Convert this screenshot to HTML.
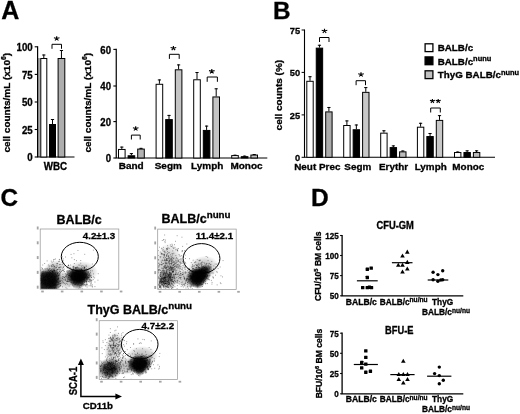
<!DOCTYPE html>
<html><head><meta charset="utf-8"><title>Figure</title>
<style>html,body{margin:0;padding:0;background:#fff;}svg{display:block;will-change:transform}text{stroke:#000;stroke-width:0.3px;font-family:"Liberation Sans",sans-serif;font-weight:bold;fill:#000}</style>
</head><body>
<svg width="520" height="414" viewBox="0 0 520 414">
<defs><radialGradient id="bg"><stop offset="0" stop-color="#000" stop-opacity="1"/><stop offset="0.5" stop-color="#000" stop-opacity="0.95"/><stop offset="0.72" stop-color="#000" stop-opacity="0.55"/><stop offset="0.88" stop-color="#000" stop-opacity="0.15"/><stop offset="1" stop-color="#000" stop-opacity="0"/></radialGradient><radialGradient id="hz"><stop offset="0" stop-color="#000" stop-opacity="0.28"/><stop offset="0.6" stop-color="#000" stop-opacity="0.17"/><stop offset="1" stop-color="#000" stop-opacity="0"/></radialGradient><radialGradient id="b2"><stop offset="0" stop-color="#000" stop-opacity="0.8"/><stop offset="0.45" stop-color="#000" stop-opacity="0.68"/><stop offset="0.75" stop-color="#000" stop-opacity="0.33"/><stop offset="1" stop-color="#000" stop-opacity="0"/></radialGradient><filter id="bl" x="-30%" y="-30%" width="160%" height="160%"><feGaussianBlur stdDeviation="1.6"/></filter><filter id="pb" x="-5%" y="-5%" width="110%" height="110%"><feGaussianBlur stdDeviation="0.45"/></filter><clipPath id="cp1"><rect x="40.6" y="229.4" width="77.8" height="59.39999999999999"/></clipPath><clipPath id="cp2"><rect x="158.1" y="229.5" width="77.7" height="59.60000000000001"/></clipPath><clipPath id="cp3"><rect x="99.60000000000001" y="321.09999999999997" width="77.6" height="57.89999999999999"/></clipPath></defs>
<rect width="520" height="414" fill="#fff"/>
<text x="1.3" y="19.3" font-size="25" text-anchor="start" stroke="#000" stroke-width="0.6">A</text>
<text x="273.1" y="19.1" font-size="24.3" text-anchor="start" stroke="#000" stroke-width="0.6">B</text>
<text x="0.6" y="205.5" font-size="24.3" text-anchor="start" stroke="#000" stroke-width="0.6">C</text>
<text x="310.9" y="205.8" font-size="24.5" text-anchor="start" stroke="#000" stroke-width="0.6">D</text>
<rect x="38" y="58" width="2.6" height="99" fill="#a8a8a8"/>
<path d="M37.6 46.199999999999996V157H74.5" stroke="#000" stroke-width="1.2" fill="none"/>
<path d="M34.7 46.8H37.6" stroke="#000" stroke-width="1.0999999999999999"/>
<text transform="translate(32.7,51.45) scale(0.9346,1)" font-size="10.38" text-anchor="end" >100</text>
<path d="M34.7 74.4H37.6" stroke="#000" stroke-width="1.0999999999999999"/>
<text transform="translate(32.7,78.91) scale(0.9346,1)" font-size="10.38" text-anchor="end" >75</text>
<path d="M34.7 102H37.6" stroke="#000" stroke-width="1.0999999999999999"/>
<text transform="translate(32.7,106.37) scale(0.9346,1)" font-size="10.38" text-anchor="end" >50</text>
<path d="M34.7 129.5H37.6" stroke="#000" stroke-width="1.0999999999999999"/>
<text transform="translate(32.7,133.82999999999998) scale(0.9346,1)" font-size="10.38" text-anchor="end" >25</text>
<path d="M34.7 157H37.6" stroke="#000" stroke-width="1.0999999999999999"/>
<text transform="translate(32.7,161.29000000000002) scale(0.9346,1)" font-size="10.38" text-anchor="end" >0</text>
<rect x="40.80" y="58.50" width="6.00" height="98.50" fill="#fff" stroke="#000" stroke-width="1"/>
<path d="M43.80 58.00V54.50M42.20 55.00H45.40" stroke="#000" stroke-width="1" fill="none"/>
<rect x="49.50" y="124.50" width="6.00" height="32.50" fill="#000" stroke="#000" stroke-width="1"/>
<path d="M52.50 124.00V119.00M50.90 119.50H54.10" stroke="#000" stroke-width="1" fill="none"/>
<rect x="58.10" y="58.50" width="6.70" height="98.50" fill="#adadad" stroke="#000" stroke-width="1"/>
<path d="M61.45 58.00V50.00M59.85 50.50H63.05" stroke="#000" stroke-width="1" fill="none"/>
<path d="M52.00 48.80V44.30H61.50V48.80" stroke="#000" stroke-width="1" fill="none"/>
<path d="M56.70 38.50l0.00 -2.20M56.70 38.50l2.80 -0.70M56.70 38.50l-2.80 -0.70M56.70 38.50l1.70 2.00M56.70 38.50l-1.70 2.00" stroke="#000" stroke-width="1.15" fill="none"/>
<text transform="translate(55.5,169.5) scale(0.9615,1)" font-size="10.19" text-anchor="middle" >WBC</text>
<text transform="translate(10.1,152.6) rotate(-90) scale(1.0204,1)" font-size="9.80">cell counts/mL (x10<tspan font-size="0.68em" dy="-3.8">6</tspan><tspan dy="3.8">)</tspan></text>
<text transform="translate(91.0,152.6) rotate(-90) scale(1.0204,1)" font-size="9.80">cell counts/mL (x10<tspan font-size="0.68em" dy="-3.8">6</tspan><tspan dy="3.8">)</tspan></text>
<path d="M116.25 48.8V158H267.3" stroke="#000" stroke-width="1.2" fill="none"/>
<path d="M113.35 49.4H116.25" stroke="#000" stroke-width="1.0999999999999999"/>
<text transform="translate(111.05,53.5) scale(0.9434,1)" font-size="10.18" text-anchor="end" >60</text>
<path d="M113.35 86.0H116.25" stroke="#000" stroke-width="1.0999999999999999"/>
<text transform="translate(111.05,90.1) scale(0.9434,1)" font-size="10.18" text-anchor="end" >40</text>
<path d="M113.35 121.6H116.25" stroke="#000" stroke-width="1.0999999999999999"/>
<text transform="translate(111.05,125.69999999999999) scale(0.9434,1)" font-size="10.18" text-anchor="end" >20</text>
<path d="M113.35 158H116.25" stroke="#000" stroke-width="1.0999999999999999"/>
<text transform="translate(111.05,162.1) scale(0.9434,1)" font-size="10.18" text-anchor="end" >0</text>
<rect x="118.50" y="149.45" width="6.60" height="8.55" fill="#fff" stroke="#000" stroke-width="1"/>
<path d="M121.80 148.95V146.60M120.20 147.10H123.40" stroke="#000" stroke-width="1" fill="none"/>
<rect x="128.10" y="155.78" width="6.60" height="2.22" fill="#000" stroke="#000" stroke-width="1"/>
<path d="M131.40 155.28V153.11M129.80 153.61H133.00" stroke="#000" stroke-width="1" fill="none"/>
<rect x="137.70" y="149.09" width="6.60" height="8.91" fill="#b2b2b2" stroke="#000" stroke-width="1"/>
<path d="M141.00 148.59V147.86M139.40 148.36H142.60" stroke="#000" stroke-width="1" fill="none"/>
<rect x="156.10" y="84.29" width="6.60" height="73.71" fill="#fff" stroke="#000" stroke-width="1"/>
<path d="M159.40 83.79V79.45M157.80 79.95H161.00" stroke="#000" stroke-width="1" fill="none"/>
<rect x="165.70" y="119.59" width="6.60" height="38.41" fill="#000" stroke="#000" stroke-width="1"/>
<path d="M169.00 119.09V114.92M167.40 115.42H170.60" stroke="#000" stroke-width="1" fill="none"/>
<rect x="175.30" y="69.81" width="6.60" height="88.19" fill="#c4c4c4" stroke="#000" stroke-width="1"/>
<path d="M178.60 69.31V64.42M177.00 64.92H180.20" stroke="#000" stroke-width="1" fill="none"/>
<rect x="193.70" y="79.77" width="6.60" height="78.23" fill="#fff" stroke="#000" stroke-width="1"/>
<path d="M197.00 79.27V72.02M195.40 72.52H198.60" stroke="#000" stroke-width="1" fill="none"/>
<rect x="203.30" y="130.44" width="6.60" height="27.56" fill="#000" stroke="#000" stroke-width="1"/>
<path d="M206.60 129.94V125.60M205.00 126.10H208.20" stroke="#000" stroke-width="1" fill="none"/>
<rect x="212.90" y="96.96" width="6.60" height="61.04" fill="#c4c4c4" stroke="#000" stroke-width="1"/>
<path d="M216.20 96.46V88.31M214.60 88.81H217.80" stroke="#000" stroke-width="1" fill="none"/>
<rect x="231.70" y="155.60" width="6.60" height="2.40" fill="#fff" stroke="#000" stroke-width="1"/>
<path d="M235.00 155.10V154.74M233.40 155.24H236.60" stroke="#000" stroke-width="1" fill="none"/>
<rect x="241.30" y="156.69" width="6.60" height="1.31" fill="#000" stroke="#000" stroke-width="1"/>
<path d="M244.60 156.19V155.65M243.00 156.15H246.20" stroke="#000" stroke-width="1" fill="none"/>
<rect x="250.90" y="155.06" width="6.60" height="2.94" fill="#c4c4c4" stroke="#000" stroke-width="1"/>
<path d="M254.20 154.56V154.02M252.60 154.52H255.80" stroke="#000" stroke-width="1" fill="none"/>
<path d="M131.40 139.50V135.10H140.20V139.50" stroke="#000" stroke-width="1" fill="none"/>
<path d="M135.70 128.50l0.00 -2.20M135.70 128.50l2.80 -0.70M135.70 128.50l-2.80 -0.70M135.70 128.50l1.70 2.00M135.70 128.50l-1.70 2.00" stroke="#000" stroke-width="1.15" fill="none"/>
<path d="M169.40 58.90V54.30H179.20V58.90" stroke="#000" stroke-width="1" fill="none"/>
<path d="M173.40 48.20l0.00 -2.20M173.40 48.20l2.80 -0.70M173.40 48.20l-2.80 -0.70M173.40 48.20l1.70 2.00M173.40 48.20l-1.70 2.00" stroke="#000" stroke-width="1.15" fill="none"/>
<path d="M207.20 81.80V77.00H217.40V81.80" stroke="#000" stroke-width="1" fill="none"/>
<path d="M211.80 71.30l0.00 -2.20M211.80 71.30l2.80 -0.70M211.80 71.30l-2.80 -0.70M211.80 71.30l1.70 2.00M211.80 71.30l-1.70 2.00" stroke="#000" stroke-width="1.15" fill="none"/>
<text transform="translate(131.2,169.3) scale(1.0638,1)" font-size="9.40" text-anchor="middle" >Band</text>
<text transform="translate(168.3,169.3) scale(1.0638,1)" font-size="9.40" text-anchor="middle" >Segm</text>
<text transform="translate(207.2,169.3) scale(1.0638,1)" font-size="9.40" text-anchor="middle" >Lymph</text>
<text transform="translate(246.5,169.3) scale(1.0638,1)" font-size="9.40" text-anchor="middle" >Monoc</text>
<path d="M304.5 29.4V157.3H495" stroke="#000" stroke-width="1.1" fill="none"/>
<path d="M301.6 30H304.5" stroke="#000" stroke-width="1.0"/>
<text transform="translate(300.1,34.050000000000004) scale(0.9346,1)" font-size="9.95" text-anchor="end" >75</text>
<path d="M301.6 72.4H304.5" stroke="#000" stroke-width="1.0"/>
<text transform="translate(300.1,76.45) scale(0.9346,1)" font-size="9.95" text-anchor="end" >50</text>
<path d="M301.6 114.9H304.5" stroke="#000" stroke-width="1.0"/>
<text transform="translate(300.1,118.95) scale(0.9346,1)" font-size="9.95" text-anchor="end" >25</text>
<path d="M301.6 157.3H304.5" stroke="#000" stroke-width="1.0"/>
<text transform="translate(300.1,161.35) scale(0.9346,1)" font-size="9.95" text-anchor="end" >0</text>
<text transform="translate(281.8,130.4) rotate(-90) scale(1.0204,1)" font-size="9.80">cell counts (%)</text>
<rect x="306.80" y="81.30" width="6.40" height="76.00" fill="#fff" stroke="#000" stroke-width="1"/>
<path d="M310.00 80.80V76.21M308.40 76.71H311.60" stroke="#000" stroke-width="1" fill="none"/>
<rect x="316.25" y="48.15" width="6.40" height="109.15" fill="#000" stroke="#000" stroke-width="1"/>
<path d="M319.45 47.65V44.76M317.85 45.26H321.05" stroke="#000" stroke-width="1" fill="none"/>
<rect x="325.70" y="111.90" width="6.40" height="45.40" fill="#ababab" stroke="#000" stroke-width="1"/>
<path d="M328.90 111.40V106.98M327.30 107.48H330.50" stroke="#000" stroke-width="1" fill="none"/>
<rect x="343.70" y="125.50" width="6.40" height="31.80" fill="#fff" stroke="#000" stroke-width="1"/>
<path d="M346.90 125.00V120.41M345.30 120.91H348.50" stroke="#000" stroke-width="1" fill="none"/>
<rect x="353.15" y="129.75" width="6.40" height="27.55" fill="#000" stroke="#000" stroke-width="1"/>
<path d="M356.35 129.25V124.49M354.75 124.99H357.95" stroke="#000" stroke-width="1" fill="none"/>
<rect x="362.60" y="92.35" width="6.40" height="64.95" fill="#c8c8c8" stroke="#000" stroke-width="1"/>
<path d="M365.80 91.85V87.09M364.20 87.59H367.40" stroke="#000" stroke-width="1" fill="none"/>
<rect x="380.70" y="133.15" width="6.40" height="24.15" fill="#fff" stroke="#000" stroke-width="1"/>
<path d="M383.90 132.65V130.27M382.30 130.77H385.50" stroke="#000" stroke-width="1" fill="none"/>
<rect x="390.15" y="147.60" width="6.40" height="9.70" fill="#000" stroke="#000" stroke-width="1"/>
<path d="M393.35 147.10V145.40M391.75 145.90H394.95" stroke="#000" stroke-width="1" fill="none"/>
<rect x="399.60" y="151.85" width="6.40" height="5.45" fill="#bcbcbc" stroke="#000" stroke-width="1"/>
<path d="M402.80 151.35V150.50M401.20 151.00H404.40" stroke="#000" stroke-width="1" fill="none"/>
<rect x="417.40" y="127.20" width="6.40" height="30.10" fill="#fff" stroke="#000" stroke-width="1"/>
<path d="M420.60 126.70V122.79M419.00 123.29H422.20" stroke="#000" stroke-width="1" fill="none"/>
<rect x="426.85" y="136.55" width="6.40" height="20.75" fill="#000" stroke="#000" stroke-width="1"/>
<path d="M430.05 136.05V132.99M428.45 133.49H431.65" stroke="#000" stroke-width="1" fill="none"/>
<rect x="436.30" y="120.40" width="6.40" height="36.90" fill="#c8c8c8" stroke="#000" stroke-width="1"/>
<path d="M439.50 119.90V115.14M437.90 115.64H441.10" stroke="#000" stroke-width="1" fill="none"/>
<rect x="454.50" y="152.53" width="6.40" height="4.77" fill="#fff" stroke="#000" stroke-width="1"/>
<path d="M457.70 152.03V151.52M456.10 152.02H459.30" stroke="#000" stroke-width="1" fill="none"/>
<rect x="463.95" y="152.53" width="6.40" height="4.77" fill="#000" stroke="#000" stroke-width="1"/>
<path d="M467.15 152.03V150.33M465.55 150.83H468.75" stroke="#000" stroke-width="1" fill="none"/>
<rect x="473.40" y="152.53" width="6.40" height="4.77" fill="#bcbcbc" stroke="#000" stroke-width="1"/>
<path d="M476.60 152.03V150.33M475.00 150.83H478.20" stroke="#000" stroke-width="1" fill="none"/>
<path d="M319.50 42.00V37.50H329.00V42.00" stroke="#000" stroke-width="1" fill="none"/>
<path d="M324.50 31.00l0.00 -2.20M324.50 31.00l2.80 -0.70M324.50 31.00l-2.80 -0.70M324.50 31.00l1.70 2.00M324.50 31.00l-1.70 2.00" stroke="#000" stroke-width="1.15" fill="none"/>
<path d="M356.10 85.20V80.70H365.50V85.20" stroke="#000" stroke-width="1" fill="none"/>
<path d="M361.00 74.50l0.00 -2.20M361.00 74.50l2.80 -0.70M361.00 74.50l-2.80 -0.70M361.00 74.50l1.70 2.00M361.00 74.50l-1.70 2.00" stroke="#000" stroke-width="1.15" fill="none"/>
<path d="M430.70 112.50V108.00H440.30V112.50" stroke="#000" stroke-width="1" fill="none"/>
<path d="M432.40 101.00l0.00 -1.94M432.40 101.00l2.46 -0.62M432.40 101.00l-2.46 -0.62M432.40 101.00l1.50 1.76M432.40 101.00l-1.50 1.76M438.20 101.00l0.00 -1.94M438.20 101.00l2.46 -0.62M438.20 101.00l-2.46 -0.62M438.20 101.00l1.50 1.76M438.20 101.00l-1.50 1.76" stroke="#000" stroke-width="1.15" fill="none"/>
<text transform="translate(317.3,169.8) scale(1.0638,1)" font-size="9.31" text-anchor="middle" >Neut Prec</text>
<text transform="translate(357.8,169.8) scale(1.0638,1)" font-size="9.31" text-anchor="middle" >Segm</text>
<text transform="translate(393.6,169.8) scale(1.0638,1)" font-size="9.31" text-anchor="middle" >Erythr</text>
<text transform="translate(430.7,169.8) scale(1.0638,1)" font-size="9.31" text-anchor="middle" >Lymph</text>
<text transform="translate(468.3,169.8) scale(1.0638,1)" font-size="9.31" text-anchor="middle" >Monoc</text>
<rect x="425.1" y="43.800000000000004" width="7.8" height="7.8" fill="#fff" stroke="#000" stroke-width="1.3"/>
<rect x="425.1" y="56.9" width="7.8" height="7.8" fill="#000" stroke="#000" stroke-width="1.3"/>
<rect x="425.1" y="70.8" width="7.8" height="7.8" fill="#c0c0c0" stroke="#000" stroke-width="1.3"/>
<text transform="translate(437.7,51.4) scale(1.0417,1)" font-size="9.41" text-anchor="start" >BALB/c</text>
<text transform="translate(437.7,64.5) scale(1.0417,1)" font-size="9.41" text-anchor="start" >BALB/c<tspan font-size="0.76em" dy="-3.8">nunu</tspan></text>
<text transform="translate(437.7,78.4) scale(1.0417,1)" font-size="9.41" text-anchor="start" >ThyG BALB/c<tspan font-size="0.76em" dy="-3.8">nunu</tspan></text>
<rect x="40.2" y="229" width="78.6" height="60.19999999999999" fill="none" stroke="#999" stroke-width="0.75"/>
<g clip-path="url(#cp1)">
<ellipse cx="54" cy="270" rx="12" ry="9" fill="url(#hz)" transform="rotate(-35 54 270)"/>
<ellipse cx="66" cy="280" rx="14" ry="9" fill="url(#hz)" transform="rotate(0 66 280)"/>
<ellipse cx="82" cy="272" rx="16" ry="11" fill="url(#hz)" transform="rotate(0 82 272)"/>
<rect x="39" y="271.5" width="18.5" height="20" rx="4" fill="#000" fill-opacity="0.8" filter="url(#bl)"/>
<ellipse cx="49.5" cy="280.5" rx="13.5" ry="12.5" fill="url(#b2)" transform="rotate(-20 49.5 280.5)"/>
<ellipse cx="78.3" cy="276" rx="14" ry="9.5" fill="url(#bg)" transform="rotate(0 78.3 276)"/>
<ellipse cx="78" cy="281" rx="8" ry="8.5" fill="url(#b2)" transform="rotate(0 78 281)"/>
<path d="M47.4 282.7h.9M47.6 278.2h.9M43.2 278.3h.9M55.9 282.9h.9M55.4 281.9h.9M51.4 281.2h.9M38.7 283.8h.9M52.1 283.0h.9M38.5 269.5h.9M43.5 276.9h.9M50.9 279.9h.9M52.2 276.8h.9M50.9 282.3h.9M44.9 289.0h.9M52.5 286.9h.9M45.2 275.6h.9M46.9 279.2h.9M52.9 281.7h.9M46.2 274.5h.9M45.8 286.4h.9M44.0 280.9h.9M51.6 272.1h.9M49.3 287.2h.9M36.5 277.1h.9M48.3 275.5h.9M52.1 279.9h.9M39.9 283.7h.9M53.1 285.5h.9M57.9 282.8h.9M49.7 273.0h.9M52.8 277.0h.9M46.2 272.8h.9M43.0 276.6h.9M57.0 269.6h.9M40.0 280.5h.9M57.9 284.0h.9M37.2 265.2h.9M51.2 276.2h.9M42.1 284.7h.9M55.8 281.5h.9M50.5 282.5h.9M58.9 284.3h.9M52.2 283.3h.9M39.3 286.2h.9M54.9 283.4h.9M36.8 275.4h.9M54.2 270.6h.9M47.9 285.5h.9M40.9 288.1h.9M52.4 279.5h.9M51.0 283.7h.9M49.7 286.3h.9M44.9 277.4h.9M55.5 280.7h.9M43.5 284.7h.9M58.1 278.4h.9M40.4 278.5h.9M48.1 278.3h.9M57.7 275.2h.9M56.8 273.8h.9M44.1 283.0h.9M56.0 285.3h.9M51.1 281.0h.9M49.9 283.2h.9M47.9 281.4h.9M52.6 280.3h.9M53.7 283.5h.9M61.5 282.9h.9M46.3 277.7h.9M48.9 285.0h.9M46.9 281.9h.9M60.4 267.0h.9M42.0 280.7h.9M51.5 281.5h.9M46.3 283.3h.9M50.7 277.3h.9M64.1 283.3h.9M45.6 279.2h.9M47.6 279.5h.9M32.1 275.8h.9M55.3 274.2h.9M48.6 285.2h.9M54.3 288.6h.9M38.5 277.1h.9M46.9 283.2h.9M55.8 265.9h.9M55.7 272.7h.9M53.2 272.2h.9M50.1 286.6h.9M48.1 281.0h.9M53.9 281.2h.9M48.5 288.3h.9M55.5 279.0h.9M66.0 275.2h.9M54.7 279.0h.9M49.8 283.9h.9M50.4 283.6h.9M39.5 270.9h.9M52.8 275.1h.9M42.6 271.4h.9M56.9 284.8h.9M58.1 275.7h.9M49.0 273.8h.9M53.7 289.1h.9M43.5 288.0h.9M55.1 279.6h.9M36.8 286.6h.9M48.4 276.6h.9M51.5 282.5h.9M58.3 275.2h.9M56.0 288.8h.9M58.0 279.8h.9M44.4 285.2h.9M49.7 280.7h.9M57.8 279.3h.9M34.8 276.6h.9M37.5 283.5h.9M51.0 276.8h.9M48.9 284.6h.9M49.5 287.3h.9M48.6 285.7h.9M58.2 289.6h.9M44.8 284.4h.9M37.4 273.0h.9M36.8 284.8h.9M41.4 279.3h.9M47.8 279.7h.9M45.3 281.0h.9M60.1 281.2h.9M52.3 285.8h.9M47.8 273.0h.9M45.6 285.6h.9M38.8 275.8h.9M55.2 284.9h.9M49.0 284.4h.9M50.0 273.6h.9M39.3 275.6h.9M54.7 277.4h.9M43.4 275.3h.9M39.5 278.5h.9M41.7 281.3h.9M34.4 280.5h.9M45.0 269.0h.9M53.5 278.9h.9M35.2 274.0h.9M50.8 277.7h.9M53.8 284.5h.9M53.1 282.2h.9M57.3 284.3h.9M51.8 268.8h.9M54.6 287.7h.9M47.2 277.3h.9M61.0 271.4h.9M51.9 293.5h.9M43.2 283.3h.9M60.7 280.4h.9M52.5 285.2h.9M43.4 279.0h.9M50.8 284.7h.9M48.8 278.9h.9M42.7 277.5h.9M54.5 281.0h.9M43.7 274.9h.9M65.5 287.7h.9M53.0 266.2h.9M52.9 283.0h.9M59.4 283.3h.9M48.6 282.8h.9M36.9 284.6h.9M51.0 276.3h.9M57.2 290.6h.9M40.3 275.6h.9M50.8 281.2h.9M46.5 274.4h.9M62.1 286.8h.9M41.6 272.0h.9M59.6 286.3h.9M60.3 285.4h.9M43.6 280.9h.9M35.6 274.7h.9M48.6 282.8h.9M44.5 278.9h.9M51.8 282.3h.9M53.0 281.5h.9M47.0 284.1h.9M49.3 275.5h.9M45.1 279.7h.9M48.3 280.8h.9M49.0 281.0h.9M48.2 273.0h.9M51.6 286.0h.9M51.7 279.2h.9M51.8 275.0h.9M37.2 279.3h.9M43.2 283.5h.9M42.3 265.0h.9M42.6 288.1h.9M46.6 272.3h.9M44.3 282.4h.9M52.1 281.2h.9M58.2 284.7h.9M48.9 283.3h.9M59.3 286.2h.9M55.3 274.6h.9M48.1 283.9h.9M47.2 285.7h.9M52.7 285.3h.9M47.7 293.8h.9M56.7 279.5h.9M49.6 294.3h.9M46.9 284.6h.9M55.1 280.6h.9M41.8 280.4h.9M51.2 286.4h.9M53.9 280.6h.9M54.3 283.4h.9M50.3 280.4h.9M47.5 283.6h.9M42.5 276.0h.9M49.0 272.0h.9M46.3 268.8h.9M44.8 282.7h.9M52.5 280.0h.9M47.6 272.1h.9M60.3 283.8h.9M55.8 275.8h.9M47.9 269.9h.9M53.8 285.5h.9M37.2 278.7h.9M52.9 270.7h.9M37.7 273.2h.9M45.1 272.0h.9M49.2 281.4h.9M52.9 284.2h.9M58.3 287.2h.9M40.9 276.5h.9M42.4 273.5h.9M48.5 280.0h.9M52.0 271.6h.9M41.3 279.2h.9M47.8 278.2h.9M48.6 275.8h.9M53.3 282.3h.9M48.5 276.3h.9M47.9 265.0h.9M42.9 279.7h.9M39.7 280.3h.9M49.9 272.5h.9M47.4 278.1h.9M51.9 283.6h.9M48.8 275.3h.9M48.1 279.6h.9M53.6 282.0h.9M44.5 272.2h.9M46.7 275.7h.9M42.1 278.8h.9M46.0 280.3h.9M52.2 278.0h.9M63.4 279.5h.9M55.8 281.3h.9M55.9 267.6h.9M44.3 280.9h.9M52.7 293.1h.9M51.0 287.2h.9M53.8 285.6h.9M52.2 279.4h.9M52.2 274.4h.9M56.3 275.1h.9M50.5 291.7h.9M47.6 280.0h.9M56.2 280.8h.9M44.0 281.0h.9M52.6 284.2h.9M44.2 289.2h.9M59.3 281.0h.9M50.7 277.8h.9M57.8 276.9h.9M53.2 277.7h.9M44.7 283.6h.9M57.3 280.7h.9M44.8 284.1h.9M48.7 281.7h.9M58.4 287.0h.9M45.8 292.2h.9M49.0 284.3h.9M45.0 279.4h.9M38.2 288.8h.9M57.5 274.1h.9M39.7 270.3h.9M56.3 278.1h.9M48.6 278.3h.9M48.2 274.0h.9M49.1 272.1h.9M48.6 281.7h.9M51.9 279.0h.9M43.4 280.4h.9M46.0 288.3h.9M53.8 279.8h.9M46.1 275.9h.9M43.2 277.6h.9M50.8 283.0h.9M52.5 291.8h.9M44.6 279.7h.9M66.3 271.3h.9M45.8 280.6h.9M50.0 282.3h.9M47.5 281.9h.9M49.3 284.3h.9M37.3 274.1h.9M49.0 274.4h.9M42.5 282.9h.9M45.0 283.1h.9M53.6 282.1h.9M52.1 279.7h.9M40.3 279.1h.9M51.8 277.4h.9M48.4 284.0h.9M43.6 283.0h.9M60.5 278.0h.9M49.9 279.3h.9M58.5 282.6h.9M54.6 276.7h.9M48.9 279.9h.9M38.0 286.9h.9M54.6 270.9h.9M53.6 279.7h.9M51.8 282.3h.9M39.7 278.0h.9M58.3 277.7h.9M42.7 272.0h.9M41.4 281.2h.9M59.5 283.3h.9M50.5 292.4h.9M45.8 276.0h.9M52.3 283.3h.9M42.7 273.0h.9M50.8 281.5h.9M40.9 278.2h.9M45.6 282.2h.9M48.3 279.5h.9M46.8 285.6h.9M57.6 278.8h.9M54.2 276.3h.9M49.4 284.1h.9M58.4 278.7h.9M48.5 281.0h.9M39.7 279.3h.9M44.8 281.7h.9M42.0 268.6h.9M49.2 281.4h.9M45.6 284.6h.9M47.3 276.5h.9M52.0 271.7h.9M44.8 279.5h.9M54.3 279.6h.9M50.9 276.6h.9M50.9 289.3h.9M44.7 292.6h.9M45.0 279.7h.9M50.1 285.7h.9M41.3 267.8h.9M52.8 284.7h.9M52.9 294.7h.9M50.3 281.5h.9M54.8 282.5h.9M59.3 274.1h.9M46.7 260.9h.9M54.0 278.4h.9M54.7 292.3h.9M49.0 278.6h.9M45.9 275.1h.9M45.1 283.2h.9M49.2 280.4h.9M47.9 284.9h.9M52.1 279.5h.9M53.1 279.5h.9M41.9 287.3h.9M51.9 275.0h.9M55.7 282.5h.9M39.3 287.9h.9M51.1 285.1h.9M50.2 279.3h.9M39.4 284.5h.9M49.2 278.4h.9M51.2 280.6h.9M53.2 278.3h.9M48.8 268.3h.9M46.4 283.5h.9M57.3 278.7h.9M48.2 288.6h.9M47.0 283.8h.9M59.4 281.1h.9M56.6 276.8h.9M50.3 279.7h.9M49.7 286.2h.9M63.8 277.7h.9M45.4 282.4h.9M42.5 282.1h.9M52.5 278.8h.9M52.3 271.8h.9M53.7 272.0h.9M44.7 276.6h.9M46.5 284.5h.9M49.5 277.9h.9M52.4 289.0h.9M49.0 282.0h.9M56.7 282.1h.9M41.0 292.9h.9M62.7 270.4h.9M48.8 282.3h.9M55.0 284.2h.9M47.3 274.1h.9M49.6 285.7h.9M42.2 273.8h.9M48.8 269.4h.9M47.4 277.5h.9M51.8 276.4h.9M43.5 277.4h.9M48.7 276.3h.9M49.1 284.1h.9M56.3 290.0h.9M44.1 277.3h.9M33.6 289.0h.9M44.5 279.4h.9M52.2 272.9h.9M51.9 280.1h.9M37.7 280.6h.9M56.4 270.4h.9M54.0 281.6h.9M51.9 282.7h.9M57.1 279.5h.9M54.4 278.2h.9M53.5 275.9h.9M48.3 289.4h.9M51.8 279.4h.9M41.9 275.0h.9M50.2 285.2h.9M51.6 283.1h.9M48.7 287.4h.9M46.6 276.8h.9M54.5 280.8h.9M47.3 276.7h.9M47.4 283.3h.9M51.2 273.6h.9M51.6 281.2h.9M42.8 283.7h.9M47.3 278.0h.9M53.9 287.7h.9M44.7 282.0h.9M43.6 292.2h.9M45.9 286.3h.9M45.0 284.1h.9M62.8 267.3h.9M46.3 282.5h.9M48.4 276.3h.9M62.3 281.6h.9M38.8 283.8h.9M38.3 285.4h.9M45.4 280.5h.9M56.8 281.3h.9M40.4 270.0h.9M56.3 284.7h.9M43.9 284.3h.9M52.1 283.8h.9M35.0 277.1h.9M54.6 284.5h.9M54.5 267.0h.9M50.0 282.8h.9M64.8 276.2h.9M47.0 280.0h.9M54.5 278.1h.9M56.1 276.3h.9M50.7 277.3h.9M50.0 276.3h.9M39.1 285.1h.9M50.9 277.1h.9M50.2 285.5h.9M42.9 278.9h.9M52.3 283.2h.9M46.9 268.3h.9M56.7 282.5h.9M49.1 278.5h.9M50.6 277.8h.9M42.6 275.4h.9M45.3 276.3h.9M41.8 282.8h.9M40.9 282.9h.9M42.7 281.4h.9M57.5 281.9h.9M44.5 279.9h.9M49.9 270.6h.9M45.2 280.6h.9M46.1 280.2h.9M53.6 284.6h.9M54.6 283.7h.9M47.2 279.7h.9M47.3 278.1h.9M47.9 270.5h.9M46.9 279.7h.9M43.0 279.3h.9M82.2 276.2h.9M91.9 264.0h.9M77.7 267.9h.9M85.1 290.3h.9M63.5 277.6h.9M82.2 275.5h.9M82.4 265.8h.9M84.3 278.9h.9M79.1 274.1h.9M83.0 274.6h.9M80.4 274.4h.9M65.1 276.8h.9M80.3 280.8h.9M73.6 276.8h.9M82.8 277.7h.9M86.7 287.0h.9M73.4 267.4h.9M84.3 284.6h.9M84.7 281.1h.9M75.2 273.4h.9M84.5 272.4h.9M67.8 272.0h.9M94.5 286.6h.9M74.7 273.4h.9M80.4 273.3h.9M87.1 276.6h.9M72.3 283.5h.9M75.4 278.1h.9M78.9 275.4h.9M81.0 273.5h.9M67.6 266.0h.9M71.1 273.2h.9M78.9 277.3h.9M82.4 277.6h.9M74.1 273.5h.9M65.9 276.2h.9M82.0 279.6h.9M78.2 276.1h.9M84.8 277.1h.9M83.6 279.9h.9M80.3 283.5h.9M75.4 275.2h.9M74.0 273.0h.9M88.6 285.8h.9M79.1 279.8h.9M86.3 281.0h.9M86.5 270.7h.9M75.0 279.3h.9M87.9 277.5h.9M73.7 275.2h.9M74.9 272.7h.9M88.3 273.9h.9M79.1 287.8h.9M86.3 278.7h.9M75.2 279.1h.9M89.1 280.1h.9M86.8 277.5h.9M82.2 276.0h.9M81.6 283.5h.9M70.1 276.7h.9M80.5 274.1h.9M77.1 280.9h.9M91.4 280.1h.9M81.0 269.2h.9M91.0 277.4h.9M78.8 271.4h.9M78.6 271.5h.9M79.4 279.3h.9M79.2 278.4h.9M73.7 284.1h.9M75.0 267.9h.9M77.8 273.2h.9M72.7 275.2h.9M80.8 271.1h.9M78.1 284.1h.9M83.2 276.2h.9M79.8 276.4h.9M78.7 280.7h.9M78.4 265.0h.9M78.9 272.6h.9M83.0 273.9h.9M79.9 287.9h.9M72.5 271.4h.9M70.2 265.0h.9M67.4 278.8h.9M75.0 267.7h.9M69.8 280.1h.9M74.2 275.2h.9M81.0 283.8h.9M91.0 282.2h.9M79.9 277.9h.9M90.2 284.1h.9M77.1 279.3h.9M80.8 277.3h.9M75.9 270.4h.9M75.7 269.3h.9M86.6 279.7h.9M71.5 284.0h.9M84.5 267.5h.9M90.4 281.0h.9M91.8 270.8h.9M82.3 279.1h.9M80.3 277.9h.9M85.5 269.5h.9M71.3 270.0h.9M75.5 274.0h.9M81.3 278.3h.9M79.2 273.6h.9M76.3 281.8h.9M83.7 277.5h.9M77.0 284.8h.9M75.3 280.2h.9M86.2 275.7h.9M84.1 271.4h.9M85.3 278.0h.9M69.2 280.3h.9M73.5 283.4h.9M74.8 276.2h.9M80.8 275.3h.9M80.6 274.2h.9M83.2 277.0h.9M80.3 263.2h.9M86.2 277.2h.9M67.9 277.5h.9M81.9 282.4h.9M72.3 284.7h.9M78.0 289.0h.9M78.1 280.4h.9M76.7 271.4h.9M85.8 281.5h.9M88.5 281.3h.9M75.4 268.7h.9M75.0 273.6h.9M73.9 279.9h.9M81.0 275.7h.9M80.1 276.3h.9M80.3 280.8h.9M84.9 273.6h.9M69.7 284.1h.9M79.7 282.5h.9M68.8 275.4h.9M79.2 269.8h.9M75.8 280.6h.9M85.7 285.0h.9M73.6 270.0h.9M82.2 281.7h.9M80.2 270.5h.9M83.8 281.0h.9M82.4 274.6h.9M80.9 281.0h.9M75.5 267.8h.9M81.0 279.4h.9M79.1 281.4h.9M75.4 276.6h.9M77.1 279.9h.9M88.9 275.7h.9M91.7 284.6h.9M83.9 279.9h.9M90.0 276.1h.9M78.3 271.7h.9M81.9 283.7h.9M82.3 279.1h.9M77.8 277.8h.9M70.2 282.2h.9M76.5 271.5h.9M74.3 272.9h.9M84.3 282.3h.9M70.6 281.6h.9M84.5 274.1h.9M69.8 273.3h.9M75.1 278.7h.9M76.8 266.9h.9M80.4 269.3h.9M84.6 271.0h.9M74.7 272.7h.9M75.6 283.5h.9M84.3 280.0h.9M81.0 269.3h.9M75.8 274.2h.9M72.9 279.5h.9M74.4 273.5h.9M72.5 266.7h.9M82.7 283.7h.9M80.1 272.1h.9M62.2 277.9h.9M86.5 278.5h.9M84.7 284.4h.9M86.0 274.8h.9M85.5 280.9h.9M69.5 275.0h.9M70.2 276.5h.9M82.6 271.7h.9M66.3 283.5h.9M81.3 284.4h.9M70.8 282.3h.9M91.9 287.0h.9M77.7 278.3h.9M78.0 282.0h.9M85.4 277.4h.9M70.6 280.7h.9M76.1 280.1h.9M80.6 285.1h.9M86.1 274.7h.9M81.2 285.8h.9M75.7 279.2h.9M86.4 283.3h.9M82.2 270.4h.9M71.2 278.2h.9M81.4 289.7h.9M73.7 282.7h.9M83.8 268.6h.9M73.9 277.8h.9M75.9 276.2h.9M81.9 273.0h.9M81.9 273.8h.9M75.6 279.7h.9M75.4 278.4h.9M88.9 277.1h.9M78.1 280.7h.9M76.7 282.4h.9M71.0 280.1h.9M75.8 273.0h.9M90.0 272.7h.9M89.9 280.3h.9M88.0 272.1h.9M86.4 284.3h.9M78.3 276.4h.9M94.2 277.9h.9M76.4 273.9h.9M81.8 278.7h.9M80.1 285.6h.9M77.0 279.4h.9M88.0 272.0h.9M85.4 286.2h.9M70.6 271.5h.9M72.6 267.8h.9M81.8 267.7h.9M82.1 284.3h.9M69.0 275.4h.9M67.1 280.9h.9M74.4 275.7h.9M79.3 279.7h.9M76.9 277.1h.9M75.6 277.6h.9M71.7 277.3h.9M67.0 274.5h.9M90.9 277.4h.9M71.2 278.3h.9M73.0 268.7h.9M74.4 280.7h.9M81.4 276.5h.9M73.3 271.6h.9M87.4 278.2h.9M73.1 266.4h.9M70.5 289.4h.9M71.9 276.6h.9M80.3 276.2h.9M77.3 270.1h.9M72.5 285.4h.9M74.3 281.2h.9M68.5 275.6h.9M80.6 282.2h.9M72.0 280.0h.9M81.4 273.3h.9M82.0 272.5h.9M74.1 276.9h.9M62.2 276.5h.9M72.8 269.7h.9M76.4 280.8h.9M76.5 283.3h.9M71.8 270.4h.9M88.6 279.0h.9M84.9 272.9h.9M84.0 278.3h.9M83.0 277.1h.9M86.5 273.8h.9M73.0 269.6h.9M86.2 273.3h.9M72.5 272.3h.9M76.2 270.6h.9M77.2 273.9h.9M75.6 272.2h.9M79.2 274.7h.9M79.7 278.2h.9M81.1 266.1h.9M75.7 273.0h.9M83.8 269.1h.9M74.6 275.5h.9M76.9 282.0h.9M76.3 281.8h.9M69.9 267.9h.9M86.6 279.2h.9M82.0 277.6h.9M82.0 270.9h.9M84.9 274.3h.9M85.1 277.4h.9M66.8 270.6h.9M86.0 276.3h.9M76.5 278.2h.9M76.4 274.3h.9M79.6 277.7h.9M88.4 277.2h.9M90.7 286.0h.9M89.6 282.3h.9M79.8 277.7h.9M78.1 273.3h.9M78.6 273.8h.9M89.2 279.7h.9M76.2 267.4h.9M78.7 274.9h.9M72.3 271.3h.9M65.0 279.8h.9M78.6 289.9h.9M78.8 276.3h.9M88.0 277.7h.9M80.0 275.1h.9M75.2 284.5h.9M85.2 285.6h.9M76.8 277.2h.9M73.5 281.8h.9M70.4 279.8h.9M85.8 284.1h.9M73.2 282.4h.9M74.6 273.2h.9M70.8 282.8h.9M89.2 274.0h.9M74.3 275.3h.9M94.5 282.0h.9M75.6 268.0h.9M74.8 282.9h.9M90.6 275.7h.9M74.7 274.5h.9M67.3 281.5h.9M72.3 282.3h.9M68.4 270.6h.9M80.8 273.2h.9M83.8 277.0h.9M71.7 280.1h.9M84.2 267.4h.9M90.3 279.5h.9M83.7 267.7h.9M74.5 275.3h.9M85.7 269.7h.9M73.5 266.9h.9M77.5 278.7h.9M68.5 274.0h.9M82.2 284.9h.9M83.1 275.5h.9M71.7 272.3h.9M74.9 277.7h.9M78.7 285.3h.9M80.8 271.6h.9M88.6 281.7h.9M79.6 273.4h.9M67.4 271.9h.9M84.7 273.0h.9M70.8 278.0h.9M80.5 280.0h.9M83.1 284.0h.9M73.8 281.9h.9M72.9 280.5h.9M80.1 278.2h.9M85.0 276.9h.9M85.9 281.4h.9M79.8 274.2h.9M74.3 274.4h.9M77.7 276.9h.9M97.5 280.2h.9M83.8 272.7h.9M74.6 275.4h.9M80.2 271.8h.9M89.0 274.2h.9M85.7 265.3h.9M79.0 278.4h.9M80.2 280.0h.9M80.7 277.8h.9M67.3 273.4h.9M64.5 280.1h.9M80.9 276.0h.9M73.9 274.1h.9M90.4 285.7h.9M78.6 283.4h.9M69.2 267.3h.9M76.0 272.6h.9M75.5 277.9h.9M97.8 273.7h.9M79.3 278.4h.9M78.8 281.7h.9M90.0 270.8h.9M80.0 275.7h.9M81.2 269.3h.9M68.1 265.4h.9M82.3 278.0h.9M79.5 265.2h.9M76.7 273.2h.9M70.2 272.4h.9M83.3 279.7h.9M78.9 279.6h.9M75.3 277.4h.9M79.2 279.8h.9M78.6 276.3h.9M78.2 273.8h.9M92.8 279.6h.9M81.7 288.5h.9M87.7 269.2h.9M83.3 281.2h.9M90.7 283.6h.9M83.8 271.1h.9M73.6 278.3h.9M82.1 271.9h.9M76.6 275.0h.9M79.4 278.7h.9M77.2 270.8h.9M86.7 285.0h.9M78.3 282.1h.9M81.8 280.3h.9M82.0 273.2h.9M82.6 282.1h.9M73.4 286.8h.9M92.0 286.1h.9M91.3 280.7h.9M76.9 274.0h.9M74.0 277.6h.9M78.8 280.4h.9M66.5 288.6h.9M93.1 276.9h.9M83.2 279.4h.9M80.7 276.0h.9M78.2 272.9h.9M80.1 276.9h.9M81.0 272.7h.9M79.2 277.2h.9M82.7 271.7h.9M81.6 281.9h.9M82.7 275.2h.9M76.0 275.8h.9M83.5 284.8h.9M78.0 273.8h.9M81.3 278.0h.9M73.4 273.3h.9M78.4 280.4h.9M71.6 271.9h.9M82.1 270.9h.9M79.7 278.8h.9M78.3 271.9h.9M78.6 275.3h.9M81.1 272.8h.9M85.8 268.6h.9M77.9 277.0h.9M85.0 274.0h.9M82.4 274.2h.9M83.6 285.7h.9M76.5 279.2h.9M73.3 281.9h.9M86.5 277.2h.9M72.0 279.0h.9M86.1 282.4h.9M84.0 267.8h.9M74.8 284.1h.9M71.4 282.7h.9M90.7 280.8h.9M85.9 275.3h.9M71.4 276.5h.9M77.8 276.8h.9M83.3 276.3h.9M80.2 279.1h.9M79.0 286.2h.9M81.7 277.4h.9M77.7 273.9h.9M87.3 277.8h.9M72.3 274.2h.9M78.2 274.8h.9M85.7 271.2h.9M82.1 277.7h.9M71.7 277.2h.9M78.4 279.5h.9M76.2 278.5h.9M68.7 271.6h.9M83.9 282.2h.9M78.9 274.0h.9M85.7 266.5h.9M74.0 280.4h.9M83.0 271.8h.9M67.3 284.3h.9M79.9 272.5h.9M79.3 281.5h.9M62.9 282.6h.9M83.6 266.6h.9M83.8 268.1h.9M86.1 279.0h.9M93.0 273.9h.9M79.0 282.2h.9M75.0 273.5h.9M76.7 276.6h.9M72.3 279.4h.9M82.4 277.4h.9M89.5 275.4h.9M87.1 274.3h.9M83.7 267.3h.9M80.2 276.1h.9M55.1 273.3h.9M57.1 272.7h.9M31.3 273.4h.9M54.3 273.9h.9M47.2 276.2h.9M73.0 275.5h.9M55.1 285.1h.9M75.7 282.5h.9M78.2 275.0h.9M60.2 283.7h.9M54.2 276.3h.9M67.3 279.2h.9M58.1 282.9h.9M59.5 281.4h.9M77.0 281.0h.9M72.3 270.0h.9M43.6 273.3h.9M68.7 286.0h.9M44.9 278.8h.9M50.0 272.6h.9M58.1 281.2h.9M65.0 284.1h.9M48.2 282.3h.9M75.0 277.4h.9M68.7 273.6h.9M46.7 274.6h.9M53.0 294.3h.9M55.2 286.9h.9M64.8 278.9h.9M72.4 272.3h.9M74.8 279.3h.9M40.8 280.6h.9M69.7 279.7h.9M84.2 274.5h.9M69.2 281.5h.9M49.4 284.2h.9M41.7 269.2h.9M69.3 270.5h.9M60.4 267.1h.9M63.0 270.2h.9M66.8 267.8h.9M68.3 275.4h.9M62.9 276.6h.9M63.8 269.1h.9M26.1 277.2h.9M48.9 274.3h.9M68.0 265.1h.9M51.3 273.3h.9M47.2 279.0h.9M60.0 272.1h.9M48.2 281.8h.9M52.8 280.5h.9M68.3 265.6h.9M46.8 277.0h.9M66.8 281.7h.9M73.2 283.2h.9M56.8 275.7h.9M72.9 274.4h.9M76.8 267.5h.9M71.1 276.0h.9M34.5 282.9h.9M66.4 277.1h.9M46.9 274.2h.9M83.2 272.0h.9M13.4 271.9h.9M45.2 276.2h.9M56.5 271.5h.9M50.2 283.3h.9M41.8 288.7h.9M54.4 270.4h.9M73.0 280.4h.9M47.4 281.5h.9M36.2 271.5h.9M77.8 275.5h.9M43.8 280.1h.9M74.8 276.9h.9M36.7 274.9h.9M67.9 281.6h.9M87.9 275.5h.9M55.2 276.8h.9M78.9 271.4h.9M80.3 260.5h.9M73.2 272.9h.9M68.4 281.1h.9M45.4 276.5h.9M65.4 280.5h.9M49.0 271.1h.9M35.1 292.2h.9M59.3 275.7h.9M41.1 282.6h.9M54.5 285.6h.9M73.9 277.1h.9M72.2 270.3h.9M57.4 273.5h.9M44.2 277.1h.9M60.0 285.6h.9M15.1 273.0h.9M49.1 274.2h.9M67.9 279.4h.9M62.4 274.2h.9M68.9 279.2h.9M36.2 275.4h.9M42.8 269.9h.9M64.1 277.4h.9M63.6 271.7h.9M59.2 271.5h.9M67.3 281.1h.9M86.6 284.6h.9M50.7 274.3h.9M48.9 278.8h.9M89.7 281.3h.9M31.2 269.5h.9M43.9 280.1h.9M62.0 278.8h.9M86.9 272.0h.9M50.1 288.8h.9M66.8 272.3h.9M33.6 267.9h.9M27.8 277.4h.9M62.6 283.0h.9M60.1 272.8h.9M51.6 288.4h.9M37.3 278.0h.9M62.4 280.7h.9M56.3 280.0h.9M73.4 276.1h.9M55.6 275.9h.9M48.5 275.8h.9M57.8 278.3h.9M80.7 284.8h.9M55.8 280.6h.9M66.1 281.6h.9M62.3 278.6h.9M55.4 272.3h.9M74.2 284.8h.9M71.3 279.6h.9M65.7 274.3h.9M37.0 281.0h.9M64.8 273.7h.9M48.5 284.7h.9M58.3 275.6h.9M87.7 281.7h.9M71.4 257.8h.9M73.9 259.6h.9M77.5 250.5h.9M92.9 250.2h.9M73.9 263.5h.9M73.5 253.7h.9M84.3 254.3h.9M65.0 257.0h.9M77.4 275.0h.9M66.8 267.7h.9M70.6 254.4h.9M76.1 260.7h.9M59.2 274.3h.9M50.2 275.4h.9M60.0 269.7h.9M49.4 273.6h.9M53.4 269.8h.9M52.4 271.6h.9M60.7 271.0h.9M52.8 273.0h.9M62.7 260.8h.9M62.8 258.9h.9M57.3 269.6h.9M62.9 266.3h.9M51.1 265.3h.9M46.5 274.0h.9M52.6 265.2h.9M57.2 263.4h.9M51.4 266.8h.9M63.9 271.4h.9M53.1 261.1h.9M55.7 267.8h.9M56.1 269.9h.9M52.1 272.9h.9M59.0 267.3h.9M51.6 266.6h.9M58.2 261.6h.9M53.0 264.9h.9M45.6 273.6h.9M53.8 268.2h.9M59.2 259.4h.9M53.6 269.5h.9M59.0 261.4h.9M58.3 267.6h.9M62.1 270.5h.9M57.3 276.7h.9M54.0 266.1h.9M52.0 264.4h.9M53.8 259.4h.9M53.5 270.1h.9M59.9 264.4h.9M62.3 262.2h.9M53.2 259.7h.9M49.4 265.9h.9M62.8 267.5h.9M47.5 272.5h.9M56.8 266.0h.9M54.1 266.6h.9M50.8 261.1h.9M53.5 273.9h.9M62.4 264.0h.9M49.6 268.5h.9M59.3 267.8h.9M50.6 270.8h.9M52.8 270.7h.9M51.6 262.2h.9M54.3 271.3h.9M47.5 269.7h.9M59.1 264.6h.9M50.2 278.3h.9M58.9 271.0h.9M48.5 277.1h.9M44.3 268.9h.9M58.3 272.5h.9M48.6 266.8h.9M55.1 259.0h.9M57.7 269.3h.9M51.4 271.3h.9M58.5 267.9h.9M57.0 273.7h.9M51.2 269.6h.9M51.0 273.6h.9M51.6 270.9h.9M54.8 268.0h.9M64.0 264.3h.9M62.2 268.9h.9M61.7 264.7h.9M59.4 269.6h.9M50.4 270.4h.9M53.3 268.1h.9M61.6 262.3h.9M44.2 263.5h.9M51.4 266.0h.9M54.1 270.5h.9M64.2 266.0h.9M56.7 263.9h.9M57.4 272.9h.9M61.8 256.8h.9M59.2 273.3h.9M58.8 259.8h.9M52.2 271.2h.9M56.4 263.6h.9" stroke="#000" stroke-width="1" stroke-opacity="0.4" fill="none" filter="url(#pb)"/>
</g>
<ellipse cx="79.8" cy="256.6" rx="18.5" ry="14.3" fill="none" stroke="#000" stroke-width="1"/>
<text x="82.8" y="239.3" font-size="9.75" text-anchor="start" >4.2±1.3</text>
<rect x="36.800000000000004" y="226.5" width="1.8" height="3" fill="#a4a4a4"/>
<rect x="41.2" y="290.59999999999997" width="2.6" height="1.8" fill="#a4a4a4"/>
<rect x="36.800000000000004" y="241.29115479115478" width="1.8" height="3" fill="#a4a4a4"/>
<rect x="60.85" y="290.59999999999997" width="2.6" height="1.8" fill="#a4a4a4"/>
<rect x="36.800000000000004" y="256.08230958230956" width="1.8" height="3" fill="#a4a4a4"/>
<rect x="80.5" y="290.59999999999997" width="2.6" height="1.8" fill="#a4a4a4"/>
<rect x="36.800000000000004" y="270.87346437346434" width="1.8" height="3" fill="#a4a4a4"/>
<rect x="100.15" y="290.59999999999997" width="2.6" height="1.8" fill="#a4a4a4"/>
<rect x="36.800000000000004" y="285.6646191646191" width="1.8" height="3" fill="#a4a4a4"/>
<rect x="119.8" y="290.59999999999997" width="2.6" height="1.8" fill="#a4a4a4"/>
<rect x="157.7" y="229.1" width="78.5" height="60.400000000000006" fill="none" stroke="#999" stroke-width="0.75"/>
<g clip-path="url(#cp2)">
<ellipse cx="169" cy="266" rx="14" ry="23" fill="url(#hz)" transform="rotate(0 169 266)"/>
<ellipse cx="167" cy="279" rx="11" ry="11" fill="url(#hz)" transform="rotate(0 167 279)"/>
<ellipse cx="166" cy="280" rx="8" ry="9" fill="url(#hz)" transform="rotate(0 166 280)"/>
<ellipse cx="203" cy="268" rx="16" ry="12" fill="url(#hz)" transform="rotate(-15 203 268)"/>
<ellipse cx="190" cy="278" rx="18" ry="10" fill="url(#hz)" transform="rotate(0 190 278)"/>
<ellipse cx="198.3" cy="276.3" rx="13.5" ry="10" fill="url(#bg)" transform="rotate(-25 198.3 276.3)"/>
<ellipse cx="198" cy="282" rx="7" ry="7" fill="url(#b2)" transform="rotate(0 198 282)"/>
<ellipse cx="205" cy="270.5" rx="8" ry="5.5" fill="url(#b2)" transform="rotate(-30 205 270.5)"/>
<path d="M193.4 281.6h.9M190.8 284.4h.9M198.6 277.3h.9M190.8 275.6h.9M202.5 268.5h.9M210.5 266.6h.9M191.4 278.2h.9M201.3 278.4h.9M196.4 275.7h.9M197.1 273.9h.9M183.6 284.3h.9M199.9 276.3h.9M194.9 278.1h.9M198.4 275.7h.9M204.9 266.8h.9M200.0 271.0h.9M196.7 283.0h.9M192.3 277.3h.9M195.1 281.1h.9M192.9 270.3h.9M201.5 273.6h.9M196.7 281.2h.9M193.4 275.8h.9M199.4 277.5h.9M195.5 281.3h.9M211.4 270.6h.9M209.3 263.9h.9M206.6 272.2h.9M199.3 274.3h.9M194.8 271.5h.9M196.2 282.2h.9M205.1 272.7h.9M195.5 273.8h.9M191.6 285.7h.9M202.3 275.4h.9M195.7 272.4h.9M206.1 277.2h.9M193.0 281.8h.9M192.1 280.6h.9M193.0 275.8h.9M201.4 277.1h.9M204.3 270.8h.9M207.6 279.3h.9M198.4 278.0h.9M194.0 276.6h.9M190.9 278.5h.9M199.6 281.5h.9M204.0 278.0h.9M196.4 275.6h.9M196.5 277.5h.9M187.4 282.4h.9M189.5 276.3h.9M198.6 273.7h.9M208.1 272.9h.9M207.6 278.5h.9M195.6 278.5h.9M206.0 272.5h.9M199.0 273.4h.9M198.8 274.4h.9M199.0 280.2h.9M206.5 274.3h.9M199.7 279.4h.9M196.8 271.9h.9M204.9 270.2h.9M203.9 270.3h.9M209.0 268.5h.9M203.4 281.1h.9M193.0 284.0h.9M193.8 269.7h.9M202.7 277.9h.9M197.3 265.4h.9M198.2 274.8h.9M196.3 275.4h.9M188.2 276.4h.9M208.9 279.8h.9M196.4 273.5h.9M200.8 279.9h.9M202.7 269.8h.9M199.4 276.3h.9M206.8 278.8h.9M201.5 280.4h.9M196.2 283.3h.9M196.0 278.4h.9M203.8 270.6h.9M194.5 269.5h.9M199.4 275.5h.9M196.6 278.7h.9M186.3 279.3h.9M199.0 274.7h.9M203.1 282.3h.9M195.9 272.7h.9M195.0 277.4h.9M201.9 271.3h.9M204.3 270.0h.9M203.3 276.5h.9M201.2 284.6h.9M197.0 275.7h.9M201.2 279.0h.9M190.8 279.3h.9M194.2 279.9h.9M206.4 274.0h.9M197.9 277.0h.9M181.5 284.1h.9M201.7 275.8h.9M196.2 273.5h.9M197.5 281.5h.9M197.9 282.0h.9M183.7 278.2h.9M200.1 275.5h.9M188.9 275.8h.9M205.7 268.4h.9M192.8 272.9h.9M195.3 279.7h.9M201.9 266.3h.9M206.9 271.1h.9M195.1 284.1h.9M198.0 270.8h.9M194.8 273.9h.9M192.7 276.2h.9M203.6 276.1h.9M190.5 290.3h.9M192.8 278.1h.9M198.7 279.2h.9M196.6 278.5h.9M210.6 273.0h.9M192.3 279.2h.9M193.9 275.7h.9M199.6 277.2h.9M196.9 280.1h.9M197.4 270.7h.9M203.6 273.0h.9M205.5 271.2h.9M201.8 276.4h.9M183.0 273.9h.9M192.1 283.9h.9M187.6 283.0h.9M204.8 276.4h.9M202.4 272.8h.9M198.4 277.0h.9M200.9 278.4h.9M197.3 273.3h.9M195.3 278.7h.9M188.9 273.3h.9M196.1 274.3h.9M196.9 264.9h.9M196.5 275.5h.9M203.0 266.2h.9M196.7 278.5h.9M201.3 280.4h.9M204.6 269.8h.9M202.2 273.5h.9M193.9 283.9h.9M194.9 273.3h.9M196.1 273.0h.9M204.3 276.0h.9M206.6 275.5h.9M195.0 281.5h.9M194.7 275.1h.9M197.5 276.4h.9M205.4 271.4h.9M200.5 275.3h.9M191.2 273.3h.9M197.2 278.1h.9M200.4 277.6h.9M198.8 274.0h.9M201.0 271.0h.9M190.7 276.7h.9M190.2 276.1h.9M194.2 274.8h.9M198.2 272.6h.9M196.1 269.3h.9M199.3 271.9h.9M200.8 263.1h.9M193.9 278.4h.9M184.4 278.4h.9M199.0 276.3h.9M189.8 279.4h.9M199.4 271.5h.9M202.8 274.6h.9M198.6 274.0h.9M201.7 275.5h.9M205.1 276.1h.9M194.9 276.0h.9M203.8 272.9h.9M200.7 277.6h.9M197.5 266.2h.9M199.3 276.7h.9M199.3 272.5h.9M205.5 273.5h.9M194.9 273.9h.9M200.6 270.7h.9M192.7 286.3h.9M206.1 278.5h.9M206.4 276.4h.9M188.7 283.9h.9M205.7 276.1h.9M187.1 284.6h.9M206.4 271.6h.9M199.2 279.2h.9M198.0 280.9h.9M199.0 278.9h.9M199.0 269.4h.9M192.7 291.4h.9M200.1 281.3h.9M205.1 281.6h.9M201.7 272.5h.9M198.6 267.6h.9M197.4 280.3h.9M185.9 280.4h.9M203.3 280.4h.9M193.1 274.7h.9M187.6 274.6h.9M201.6 284.2h.9M191.8 283.9h.9M201.0 273.1h.9M211.3 261.4h.9M198.1 277.1h.9M210.9 280.4h.9M211.7 272.9h.9M204.2 280.4h.9M201.5 276.7h.9M197.4 274.5h.9M191.3 286.5h.9M195.9 267.6h.9M200.0 275.4h.9M199.5 283.6h.9M197.9 275.0h.9M194.1 277.1h.9M195.9 277.6h.9M216.7 272.6h.9M193.5 285.8h.9M203.5 278.2h.9M202.7 278.4h.9M202.4 281.1h.9M204.4 280.3h.9M195.6 276.8h.9M194.2 281.4h.9M203.4 272.6h.9M201.9 286.5h.9M205.7 269.1h.9M198.0 278.9h.9M198.3 277.8h.9M205.4 275.5h.9M192.1 280.9h.9M197.9 276.7h.9M195.2 270.9h.9M191.2 276.5h.9M192.3 265.9h.9M205.2 269.0h.9M194.3 279.5h.9M184.4 285.8h.9M194.0 280.1h.9M195.7 278.1h.9M199.1 275.8h.9M187.8 272.6h.9M198.3 282.2h.9M195.3 279.2h.9M199.4 277.9h.9M204.3 267.8h.9M200.1 274.8h.9M196.7 272.8h.9M193.9 272.8h.9M192.1 288.8h.9M208.4 273.3h.9M202.8 270.5h.9M182.2 272.6h.9M199.3 282.1h.9M198.3 271.7h.9M197.1 272.0h.9M190.3 277.3h.9M196.2 273.1h.9M193.3 273.4h.9M199.9 281.7h.9M197.3 286.1h.9M189.0 279.9h.9M191.7 277.2h.9M199.1 278.3h.9M205.1 271.7h.9M191.2 277.2h.9M200.2 272.5h.9M203.7 281.9h.9M190.2 279.9h.9M204.4 265.9h.9M199.7 274.7h.9M190.2 284.1h.9M199.8 273.5h.9M201.1 278.1h.9M203.0 277.3h.9M200.9 270.2h.9M196.0 277.3h.9M182.3 289.9h.9M196.3 272.0h.9M187.9 280.1h.9M198.7 273.4h.9M196.1 272.8h.9M194.1 276.8h.9M194.7 280.0h.9M197.7 276.8h.9M200.9 280.9h.9M202.0 276.0h.9M197.5 272.7h.9M196.5 279.6h.9M199.8 273.9h.9M190.7 271.5h.9M200.4 280.0h.9M200.7 269.4h.9M197.3 277.3h.9M193.1 279.0h.9M197.3 272.7h.9M191.2 281.6h.9M200.6 271.5h.9M192.6 281.6h.9M202.0 273.7h.9M207.8 272.1h.9M192.3 282.5h.9M197.4 277.8h.9M198.7 271.5h.9M191.6 277.1h.9M206.7 269.3h.9M206.4 274.7h.9M192.0 279.0h.9M201.8 271.1h.9M186.1 281.0h.9M192.0 279.7h.9M187.3 278.5h.9M193.8 270.8h.9M197.1 277.1h.9M195.2 271.7h.9M199.7 268.0h.9M201.6 277.3h.9M208.3 277.1h.9M200.6 276.6h.9M198.7 270.2h.9M207.0 275.9h.9M196.8 271.5h.9M207.2 275.9h.9M191.6 280.9h.9M209.6 272.8h.9M200.8 273.5h.9M194.8 281.7h.9M216.4 271.5h.9M197.8 279.7h.9M196.7 279.7h.9M203.3 270.2h.9M192.3 277.4h.9M203.4 275.9h.9M205.7 268.0h.9M201.4 272.5h.9M199.1 277.2h.9M192.8 276.6h.9M191.7 279.1h.9M193.5 275.2h.9M199.8 272.8h.9M205.2 271.3h.9M203.4 275.8h.9M192.5 276.7h.9M193.6 275.8h.9M196.9 284.4h.9M196.1 283.5h.9M201.1 269.6h.9M185.0 282.7h.9M186.9 282.4h.9M204.5 276.0h.9M197.3 275.2h.9M200.0 274.3h.9M195.4 275.3h.9M205.3 271.4h.9M200.7 270.4h.9M194.4 271.2h.9M197.4 279.3h.9M200.3 273.4h.9M202.1 273.5h.9M200.7 276.6h.9M201.6 264.3h.9M190.9 281.5h.9M197.9 285.9h.9M197.1 274.0h.9M207.2 276.0h.9M209.5 275.1h.9M197.3 279.5h.9M193.9 275.3h.9M195.3 275.9h.9M203.0 272.6h.9M200.4 273.3h.9M203.6 262.6h.9M197.3 277.1h.9M192.2 282.2h.9M199.8 281.2h.9M204.1 277.2h.9M197.6 271.5h.9M197.2 274.4h.9M199.9 273.6h.9M216.2 264.1h.9M205.3 272.1h.9M197.1 280.4h.9M198.5 270.7h.9M200.9 274.5h.9M186.6 280.2h.9M192.4 274.5h.9M201.3 276.5h.9M196.8 285.9h.9M200.9 272.7h.9M199.9 275.1h.9M185.7 272.7h.9M190.4 287.2h.9M197.4 275.1h.9M195.2 281.2h.9M198.7 283.4h.9M203.1 281.9h.9M197.8 277.8h.9M196.0 276.0h.9M188.5 276.3h.9M193.0 274.7h.9M205.5 275.2h.9M205.6 277.7h.9M203.8 278.9h.9M195.0 280.5h.9M196.6 274.2h.9M205.4 283.4h.9M192.8 285.1h.9M203.3 271.0h.9M200.1 277.2h.9M200.7 273.8h.9M191.1 278.2h.9M203.5 278.0h.9M202.3 279.7h.9M192.8 277.4h.9M200.5 279.8h.9M199.4 278.0h.9M199.3 284.9h.9M185.9 279.4h.9M212.8 273.0h.9M187.9 279.5h.9M190.2 275.4h.9M199.8 283.1h.9M201.2 278.1h.9M204.4 275.2h.9M193.5 277.0h.9M200.4 274.3h.9M194.6 275.5h.9M189.8 274.0h.9M198.0 274.6h.9M198.7 282.0h.9M200.2 275.4h.9M191.7 273.2h.9M200.7 271.6h.9M201.0 270.7h.9M199.3 275.5h.9M204.3 272.7h.9M196.4 277.7h.9M198.8 283.2h.9M197.0 274.1h.9M196.7 278.6h.9M199.9 278.6h.9M190.5 289.0h.9M209.1 272.9h.9M191.5 278.6h.9M200.9 265.7h.9M198.6 269.6h.9M201.1 281.2h.9M204.5 267.8h.9M206.5 277.7h.9M196.4 278.8h.9M207.3 272.1h.9M198.4 273.6h.9M205.2 264.8h.9M206.7 269.5h.9M203.8 267.5h.9M193.1 274.9h.9M203.3 267.6h.9M202.0 272.3h.9M205.7 272.6h.9M201.3 274.5h.9M208.9 271.5h.9M198.4 284.6h.9M198.9 278.8h.9M194.2 278.1h.9M185.4 280.1h.9M194.8 270.5h.9M190.3 283.2h.9M201.0 268.8h.9M209.0 270.1h.9M196.4 277.7h.9M191.9 270.8h.9M194.2 282.3h.9M204.0 267.6h.9M205.5 274.2h.9M201.4 275.4h.9M200.9 271.0h.9M193.3 274.4h.9M196.4 279.3h.9M191.5 284.9h.9M194.8 274.5h.9M202.6 276.7h.9M196.5 271.9h.9M192.7 270.7h.9M205.1 278.8h.9M209.3 275.1h.9M200.4 278.7h.9M204.0 273.3h.9M200.5 284.8h.9M188.7 272.7h.9M192.9 280.8h.9M205.4 272.6h.9M202.4 274.7h.9M200.2 273.2h.9M198.3 276.0h.9M205.0 283.8h.9M188.0 281.2h.9M198.5 280.2h.9M204.6 277.7h.9M203.2 270.6h.9M188.6 286.0h.9M205.5 269.9h.9M206.0 276.8h.9M184.3 283.9h.9M192.8 282.6h.9M194.6 273.9h.9M189.6 277.6h.9M204.4 271.4h.9M187.8 288.3h.9M209.2 276.0h.9M195.4 271.6h.9M189.0 281.1h.9M206.0 269.3h.9M198.5 274.8h.9M197.0 278.6h.9M210.6 269.9h.9M203.4 279.3h.9M196.9 275.8h.9M190.7 282.8h.9M195.4 274.0h.9M198.9 272.2h.9M192.5 276.4h.9M207.1 272.7h.9M201.5 268.8h.9M187.2 287.0h.9M196.2 270.0h.9M197.9 278.8h.9M188.5 275.0h.9M200.0 271.6h.9M203.1 278.9h.9M201.1 273.4h.9M198.2 273.3h.9M197.7 277.6h.9M196.8 280.7h.9M213.5 269.4h.9M200.5 279.0h.9M202.2 273.9h.9M195.7 281.1h.9M202.1 277.2h.9M193.8 280.0h.9M203.1 273.9h.9M202.2 284.4h.9M187.6 281.7h.9M191.7 272.0h.9M197.1 278.8h.9M198.8 270.9h.9M190.2 275.9h.9M198.6 272.4h.9M189.8 286.1h.9M193.6 276.7h.9M195.3 274.3h.9M198.7 274.6h.9M202.1 269.8h.9M189.9 286.9h.9M198.1 279.5h.9M205.3 276.5h.9M198.7 269.2h.9M189.2 282.9h.9M202.4 277.4h.9M188.9 269.4h.9M192.4 272.6h.9M199.4 271.3h.9M207.7 270.7h.9M195.2 280.7h.9M200.4 271.5h.9M203.3 283.0h.9M191.4 276.9h.9M192.2 269.3h.9M202.1 278.0h.9M204.2 276.3h.9M186.8 279.2h.9M194.6 272.0h.9M192.1 281.1h.9M196.8 285.1h.9M201.2 266.9h.9M203.7 280.0h.9M198.7 270.7h.9M208.8 267.4h.9M198.0 267.8h.9M191.2 270.6h.9M204.9 279.4h.9M196.1 270.7h.9M198.1 277.8h.9M189.6 273.4h.9M197.9 279.2h.9M198.9 277.8h.9M191.2 267.1h.9M200.3 271.5h.9M168.1 262.1h.9M172.5 258.1h.9M179.6 266.3h.9M172.9 272.4h.9M176.6 270.1h.9M156.2 259.6h.9M182.6 270.8h.9M173.1 270.8h.9M164.3 259.0h.9M164.3 277.9h.9M171.7 284.3h.9M172.7 285.4h.9M172.4 253.8h.9M181.8 269.5h.9M177.7 268.2h.9M166.6 267.7h.9M160.8 253.7h.9M162.5 260.6h.9M159.0 264.9h.9M171.2 286.9h.9M182.5 265.5h.9M175.5 263.7h.9M171.9 265.7h.9M165.0 266.8h.9M158.1 270.5h.9M166.9 254.8h.9M166.3 271.7h.9M164.0 270.9h.9M173.2 282.1h.9M161.0 264.9h.9M172.8 281.5h.9M170.9 273.8h.9M158.2 260.0h.9M181.3 263.1h.9M185.0 258.5h.9M166.9 249.5h.9M173.7 268.7h.9M183.9 267.7h.9M167.1 251.4h.9M168.4 275.8h.9M174.5 278.7h.9M175.4 265.5h.9M173.5 267.8h.9M159.1 283.7h.9M171.8 255.1h.9M171.9 269.0h.9M176.4 281.0h.9M146.5 271.8h.9M180.3 256.2h.9M155.2 268.9h.9M171.5 269.6h.9M160.8 261.1h.9M170.4 273.7h.9M185.3 269.1h.9M164.5 241.5h.9M177.0 264.6h.9M168.2 255.7h.9M174.5 247.4h.9M169.8 267.3h.9M171.2 279.6h.9M168.3 267.0h.9M175.4 249.9h.9M166.8 266.7h.9M176.1 257.7h.9M175.0 270.0h.9M157.9 250.6h.9M158.3 267.5h.9M170.5 273.5h.9M175.1 260.2h.9M177.0 274.5h.9M172.5 271.0h.9M159.4 269.8h.9M161.3 253.6h.9M166.4 267.5h.9M168.6 262.6h.9M161.5 267.9h.9M163.5 251.3h.9M169.7 281.2h.9M166.0 254.9h.9M179.3 283.9h.9M166.8 263.8h.9M170.6 296.8h.9M170.0 276.4h.9M172.3 247.0h.9M160.8 253.1h.9M172.2 267.1h.9M182.4 263.2h.9M171.3 266.8h.9M170.0 290.2h.9M171.1 281.4h.9M178.7 259.7h.9M174.1 262.0h.9M169.8 267.7h.9M169.2 261.1h.9M180.6 263.2h.9M174.3 283.6h.9M173.7 276.7h.9M179.4 277.4h.9M181.9 251.1h.9M183.6 266.3h.9M155.9 259.3h.9M158.6 265.8h.9M157.9 255.5h.9M171.2 267.6h.9M163.0 263.5h.9M168.3 266.8h.9M168.9 263.7h.9M175.6 249.2h.9M165.3 267.4h.9M166.0 260.2h.9M165.7 268.2h.9M178.3 264.1h.9M167.0 269.7h.9M167.2 245.7h.9M171.0 262.0h.9M164.7 272.6h.9M169.3 260.1h.9M152.7 248.0h.9M169.1 264.8h.9M172.3 268.3h.9M165.4 252.7h.9M160.8 264.5h.9M160.4 273.9h.9M159.1 247.2h.9M167.5 247.4h.9M181.2 255.6h.9M168.6 263.4h.9M162.9 247.4h.9M155.0 275.1h.9M176.7 288.7h.9M158.0 271.9h.9M168.9 274.9h.9M165.1 273.6h.9M175.7 272.4h.9M179.8 264.2h.9M180.6 258.6h.9M181.5 237.2h.9M169.1 257.6h.9M169.0 276.8h.9M174.4 267.0h.9M181.8 250.5h.9M162.9 281.9h.9M171.5 244.2h.9M171.6 253.6h.9M180.1 278.0h.9M164.9 279.6h.9M162.7 275.7h.9M173.3 264.7h.9M158.3 263.1h.9M151.8 260.1h.9M155.1 278.8h.9M161.8 240.5h.9M173.4 269.9h.9M165.2 288.2h.9M174.8 266.7h.9M164.2 235.0h.9M172.6 276.1h.9M164.6 251.2h.9M168.7 248.4h.9M169.1 274.1h.9M180.3 268.8h.9M170.5 273.9h.9M179.5 262.6h.9M159.8 257.7h.9M159.6 256.7h.9M168.1 269.6h.9M170.2 266.7h.9M166.3 270.4h.9M175.6 274.0h.9M180.2 263.0h.9M167.1 283.8h.9M170.5 270.3h.9M166.5 276.2h.9M166.0 255.4h.9M168.5 261.4h.9M175.3 262.0h.9M169.9 263.7h.9M171.6 259.4h.9M177.3 251.0h.9M166.1 258.6h.9M173.9 266.4h.9M172.6 262.5h.9M163.6 254.2h.9M166.5 260.4h.9M171.1 269.7h.9M176.3 264.9h.9M163.4 254.9h.9M169.5 269.8h.9M183.6 267.9h.9M182.2 285.7h.9M161.1 278.7h.9M177.5 280.1h.9M168.9 276.0h.9M165.4 265.3h.9M169.1 284.7h.9M167.4 276.0h.9M169.5 258.6h.9M170.8 272.9h.9M163.7 272.7h.9M163.7 256.8h.9M170.7 263.5h.9M161.6 248.9h.9M169.2 268.6h.9M165.6 268.0h.9M157.5 270.1h.9M172.1 268.9h.9M164.4 266.8h.9M170.0 277.2h.9M171.1 268.7h.9M163.6 275.1h.9M177.8 260.8h.9M173.8 269.2h.9M168.6 252.5h.9M182.2 246.4h.9M171.3 262.1h.9M177.6 261.6h.9M169.3 272.4h.9M172.4 260.5h.9M174.1 270.1h.9M176.4 260.6h.9M168.7 261.9h.9M162.7 268.7h.9M172.1 280.9h.9M166.6 270.1h.9M177.6 264.8h.9M169.5 267.4h.9M163.8 255.6h.9M177.4 267.8h.9M168.4 253.0h.9M169.9 278.3h.9M160.4 256.7h.9M177.3 281.0h.9M180.6 260.2h.9M173.5 258.1h.9M172.9 262.2h.9M170.5 280.0h.9M171.5 263.5h.9M169.4 268.8h.9M165.2 268.2h.9M173.5 282.3h.9M153.6 253.6h.9M159.8 275.1h.9M187.2 268.0h.9M169.9 277.9h.9M150.8 264.1h.9M145.8 267.6h.9M165.2 260.9h.9M171.5 259.9h.9M177.3 266.0h.9M171.8 292.5h.9M165.7 275.7h.9M162.8 279.0h.9M176.2 267.5h.9M176.4 282.8h.9M179.3 266.0h.9M168.6 277.5h.9M158.1 259.7h.9M172.6 271.9h.9M182.8 284.3h.9M171.4 270.6h.9M159.2 264.1h.9M170.9 263.6h.9M169.4 272.3h.9M161.9 260.1h.9M155.8 277.9h.9M161.2 248.3h.9M174.7 263.8h.9M176.2 262.2h.9M184.8 273.4h.9M170.1 267.2h.9M167.5 274.4h.9M183.8 261.6h.9M160.9 272.2h.9M176.9 250.5h.9M163.9 255.7h.9M173.2 271.2h.9M163.6 254.3h.9M174.1 244.7h.9M173.8 264.4h.9M183.2 276.3h.9M164.7 263.2h.9M166.9 258.5h.9M169.6 276.0h.9M157.8 263.6h.9M180.0 273.7h.9M163.0 257.7h.9M162.7 249.4h.9M177.5 266.7h.9M163.8 251.2h.9M166.2 260.7h.9M181.7 261.2h.9M169.9 277.1h.9M173.9 264.1h.9M152.9 280.5h.9M173.4 261.5h.9M168.3 256.1h.9M162.4 250.7h.9M172.7 271.4h.9M170.3 274.1h.9M173.0 267.3h.9M162.5 272.1h.9M177.8 272.5h.9M178.2 261.1h.9M161.8 278.9h.9M164.7 268.5h.9M167.6 266.2h.9M167.0 260.4h.9M155.9 285.6h.9M170.5 246.2h.9M162.3 254.4h.9M163.5 239.7h.9M173.2 282.9h.9M167.2 273.7h.9M173.4 253.2h.9M178.0 248.6h.9M164.8 262.3h.9M178.2 267.2h.9M168.1 257.7h.9M169.7 266.4h.9M174.4 280.4h.9M174.4 266.2h.9M167.9 282.5h.9M170.5 265.8h.9M182.2 282.1h.9M173.2 264.9h.9M164.3 277.0h.9M165.7 275.9h.9M163.3 267.1h.9M172.0 267.5h.9M170.7 269.9h.9M160.8 254.6h.9M167.9 284.5h.9M168.1 256.5h.9M164.2 266.3h.9M177.7 260.2h.9M173.1 267.9h.9M166.4 256.3h.9M167.9 258.6h.9M172.9 247.9h.9M177.3 273.8h.9M173.2 281.4h.9M173.4 248.5h.9M169.4 270.6h.9M164.0 254.4h.9M172.2 271.2h.9M165.9 263.5h.9M165.3 260.2h.9M168.6 277.0h.9M157.2 262.5h.9M180.8 269.3h.9M170.1 274.6h.9M161.7 253.6h.9M156.9 251.1h.9M170.8 274.7h.9M166.0 259.0h.9M172.0 272.3h.9M170.9 246.5h.9M165.0 240.1h.9M170.8 257.3h.9M164.2 281.4h.9M178.7 270.9h.9M171.0 267.8h.9M164.7 265.5h.9M183.0 257.0h.9M164.2 267.7h.9M175.5 274.5h.9M161.9 264.7h.9M167.1 253.4h.9M169.6 261.1h.9M175.7 270.4h.9M163.3 266.8h.9M166.4 259.5h.9M165.5 276.9h.9M166.0 248.5h.9M163.4 274.2h.9M184.7 255.2h.9M166.4 262.6h.9M158.7 270.1h.9M168.6 268.9h.9M185.3 263.3h.9M174.8 274.5h.9M164.4 260.0h.9M180.4 273.3h.9M170.0 254.8h.9M175.4 271.4h.9M185.0 281.1h.9M174.9 268.7h.9M169.5 260.4h.9M171.3 268.5h.9M173.8 277.1h.9M171.3 260.5h.9M174.9 281.9h.9M162.9 270.3h.9M173.0 271.5h.9M172.7 265.1h.9M168.3 283.2h.9M181.6 251.7h.9M150.5 270.5h.9M164.1 260.7h.9M157.4 269.6h.9M168.6 260.5h.9M175.6 290.8h.9M179.8 278.0h.9M166.0 272.7h.9M168.7 277.8h.9M173.2 265.6h.9M173.0 258.7h.9M174.8 281.4h.9M166.4 271.7h.9M156.9 275.6h.9M175.4 255.6h.9M181.7 267.2h.9M156.4 252.0h.9M175.4 263.2h.9M177.0 250.2h.9M168.3 276.0h.9M164.1 272.9h.9M166.4 269.5h.9M171.4 288.8h.9M160.0 274.0h.9M178.6 254.5h.9M169.6 289.6h.9M176.7 235.7h.9M167.3 248.6h.9M171.2 258.6h.9M164.9 257.5h.9M171.1 261.2h.9M162.4 263.7h.9M172.0 257.3h.9M177.1 249.1h.9M172.0 262.0h.9M180.5 259.4h.9M164.2 252.3h.9M183.5 272.3h.9M161.1 262.6h.9M162.0 281.5h.9M172.0 245.2h.9M170.5 275.3h.9M169.0 270.8h.9M168.2 268.1h.9M170.6 258.8h.9M171.5 267.7h.9M168.7 259.0h.9M161.6 268.5h.9M175.0 241.3h.9M165.1 279.8h.9M175.7 258.7h.9M178.9 255.9h.9M163.2 285.8h.9M165.8 263.8h.9M157.0 255.7h.9M160.4 264.6h.9M155.6 276.9h.9M166.4 259.8h.9M164.4 273.6h.9M180.2 261.8h.9M180.8 282.4h.9M178.8 269.1h.9M158.1 272.9h.9M166.0 268.0h.9M155.3 263.1h.9M170.7 256.4h.9M171.1 283.1h.9M170.7 259.0h.9M186.4 244.0h.9M162.3 270.2h.9M164.7 242.6h.9M170.9 274.5h.9M163.2 281.0h.9M172.6 278.2h.9M157.9 266.0h.9M180.7 286.6h.9M178.6 266.0h.9M170.3 259.6h.9M177.0 258.9h.9M169.9 244.9h.9M158.0 284.2h.9M169.4 268.2h.9M153.0 265.7h.9M184.1 250.7h.9M151.6 264.3h.9M165.1 263.8h.9M159.8 252.1h.9M160.0 272.6h.9M168.7 274.4h.9M161.1 272.1h.9M165.8 266.9h.9M175.8 266.3h.9M166.4 248.9h.9M169.5 274.0h.9M164.4 265.3h.9M156.0 252.3h.9M172.0 279.3h.9M166.7 248.8h.9M166.2 249.9h.9M167.0 285.8h.9M171.2 264.4h.9M176.6 262.1h.9M171.4 268.1h.9M172.3 250.9h.9M174.2 275.1h.9M152.2 238.1h.9M162.4 281.4h.9M169.2 273.0h.9M173.1 275.2h.9M164.3 260.0h.9M171.8 272.3h.9M173.2 269.5h.9M165.4 277.4h.9M172.5 277.0h.9M150.3 276.4h.9M151.0 268.2h.9M164.1 267.2h.9M165.5 262.8h.9M170.4 269.6h.9M163.1 239.8h.9M163.2 271.6h.9M162.8 270.4h.9M166.3 256.2h.9M177.6 283.2h.9M163.5 280.8h.9M168.3 274.5h.9M160.1 286.6h.9M168.0 278.6h.9M160.5 282.7h.9M157.7 278.5h.9M163.0 268.8h.9M166.6 284.8h.9M168.7 273.9h.9M158.3 277.0h.9M158.2 291.2h.9M159.7 279.5h.9M164.9 283.3h.9M170.5 275.6h.9M167.9 281.7h.9M158.8 281.7h.9M157.8 289.0h.9M160.7 286.0h.9M169.8 277.9h.9M160.0 281.6h.9M159.3 285.5h.9M164.8 277.2h.9M160.9 284.6h.9M157.5 289.4h.9M160.5 280.0h.9M159.9 289.1h.9M167.7 287.5h.9M166.9 281.4h.9M171.6 284.3h.9M166.0 283.9h.9M167.3 282.4h.9M163.3 273.1h.9M173.2 274.5h.9M154.4 277.5h.9M172.7 287.1h.9M161.3 282.3h.9M163.9 271.1h.9M162.5 282.5h.9M169.3 275.0h.9M153.9 273.1h.9M165.5 281.4h.9M164.7 281.7h.9M162.4 274.2h.9M166.0 282.9h.9M166.6 287.2h.9M158.4 269.3h.9M156.0 291.7h.9M159.9 283.0h.9M163.9 284.6h.9M178.4 278.4h.9M163.2 278.0h.9M165.1 283.6h.9M159.6 287.6h.9M169.2 283.2h.9M163.5 279.8h.9M156.6 284.3h.9M159.6 278.5h.9M168.5 276.4h.9M161.7 285.3h.9M172.4 277.5h.9M169.0 277.7h.9M165.7 283.4h.9M158.9 286.1h.9M172.1 281.3h.9M165.2 275.1h.9M172.0 281.3h.9M158.3 284.8h.9M157.4 277.6h.9M154.4 287.9h.9M173.9 277.8h.9M161.1 278.1h.9M161.5 283.8h.9M170.6 276.0h.9M166.0 272.0h.9M170.9 280.6h.9M160.8 288.7h.9M163.5 287.8h.9M168.8 289.3h.9M160.4 281.3h.9M165.7 280.0h.9M170.9 277.4h.9M168.5 287.8h.9M155.2 276.2h.9M159.9 278.3h.9M165.8 280.1h.9M164.4 278.7h.9M163.6 283.4h.9M167.4 277.1h.9M163.5 277.2h.9M163.2 273.8h.9M168.3 284.4h.9M163.4 277.6h.9M161.9 277.7h.9M157.1 289.2h.9M178.8 274.9h.9M158.7 283.9h.9M166.7 273.1h.9M155.4 283.7h.9M155.0 288.1h.9M161.8 281.4h.9M164.0 278.2h.9M163.4 279.5h.9M169.6 280.5h.9M163.9 278.4h.9M161.1 277.3h.9M164.0 290.2h.9M169.0 282.2h.9M171.5 286.1h.9M164.9 280.2h.9M159.1 282.2h.9M162.6 273.1h.9M158.2 290.7h.9M165.0 283.5h.9M164.9 278.7h.9M166.1 286.4h.9M162.6 283.6h.9M168.6 278.6h.9M164.8 277.3h.9M166.7 279.2h.9M169.2 277.2h.9M171.6 279.4h.9M160.2 276.5h.9M167.0 276.7h.9M172.1 287.4h.9M166.3 273.9h.9M163.9 277.4h.9M155.8 283.1h.9M173.9 278.3h.9M167.6 287.4h.9M159.7 279.3h.9M165.2 283.4h.9M158.8 282.1h.9M163.5 285.8h.9M156.8 278.2h.9M161.7 279.4h.9M167.3 277.9h.9M176.3 277.5h.9M167.8 286.1h.9M168.3 280.0h.9M160.3 279.7h.9M167.0 281.6h.9M166.6 283.9h.9M160.0 276.3h.9M170.5 278.6h.9M156.9 290.3h.9M160.2 276.3h.9M168.4 275.3h.9M160.1 286.2h.9M160.3 293.5h.9M164.4 294.4h.9M164.6 281.3h.9M161.1 279.9h.9M161.7 280.9h.9M167.5 274.6h.9M159.9 270.5h.9M170.8 280.6h.9M163.9 280.7h.9M168.5 282.6h.9M167.8 280.2h.9M163.5 280.7h.9M155.6 286.4h.9M156.9 276.0h.9M167.0 281.3h.9M167.7 289.5h.9M172.4 287.9h.9M163.0 291.2h.9M160.0 280.6h.9M168.5 279.9h.9M163.5 279.2h.9M170.1 268.7h.9M169.7 286.3h.9M163.7 283.8h.9M159.6 286.5h.9M177.8 276.4h.9M170.3 280.7h.9M162.5 278.6h.9M163.1 274.7h.9M157.9 289.3h.9M163.9 283.8h.9M165.4 283.4h.9M157.1 276.3h.9M166.8 286.0h.9M158.8 278.1h.9M159.2 284.3h.9M165.5 281.2h.9M161.1 282.7h.9M164.1 277.3h.9M165.5 277.7h.9M168.3 284.1h.9M160.9 283.9h.9M164.3 277.5h.9M159.9 272.7h.9M158.9 282.7h.9M169.4 277.9h.9M164.7 282.7h.9M167.5 283.2h.9M169.5 284.8h.9M160.6 283.0h.9M153.5 280.1h.9M164.1 283.9h.9M162.6 285.2h.9M169.9 276.8h.9M161.6 282.3h.9M166.2 281.7h.9M167.7 275.1h.9M167.5 286.8h.9M169.0 283.1h.9M162.9 283.0h.9M163.7 273.1h.9M161.3 280.8h.9M161.7 276.3h.9M163.0 279.1h.9M164.3 280.8h.9M164.8 286.0h.9M164.6 283.0h.9M158.5 266.3h.9M162.2 284.4h.9M162.5 277.9h.9M158.4 285.5h.9M161.6 282.2h.9M169.1 283.7h.9M174.1 280.3h.9M168.3 284.5h.9M161.1 281.2h.9M161.5 275.9h.9M165.3 277.1h.9M171.6 277.3h.9M161.6 281.5h.9M161.7 281.3h.9M161.3 273.9h.9M153.1 274.6h.9M170.8 283.2h.9M164.7 278.7h.9M163.3 282.5h.9M157.7 277.0h.9M160.0 287.3h.9M159.2 286.9h.9M161.9 294.6h.9M163.6 281.2h.9M170.1 285.4h.9M168.2 275.7h.9M169.1 289.4h.9M163.5 278.6h.9M159.1 286.1h.9M165.3 281.0h.9M158.4 289.1h.9M167.9 280.9h.9M170.6 276.2h.9M168.0 276.0h.9M170.3 279.6h.9M169.5 278.9h.9M165.8 286.7h.9M159.9 281.5h.9M160.2 285.3h.9M161.3 279.1h.9M163.1 286.8h.9M159.3 280.9h.9M162.5 278.3h.9M160.5 280.2h.9M164.9 273.3h.9M165.1 275.1h.9M164.1 292.4h.9M159.6 280.7h.9M162.9 285.9h.9M161.9 272.1h.9M156.8 281.9h.9M165.1 286.3h.9M161.6 284.3h.9M159.2 287.5h.9M163.7 277.6h.9M164.8 289.7h.9M160.2 274.8h.9M159.4 275.2h.9M163.8 282.8h.9M163.3 282.0h.9M169.3 279.6h.9M158.4 269.6h.9M165.1 277.6h.9M162.9 283.0h.9M166.1 273.2h.9M159.7 281.4h.9M163.4 286.7h.9M161.7 270.7h.9M169.3 272.8h.9M159.6 282.9h.9M159.2 293.4h.9M165.1 283.7h.9M162.0 292.1h.9M166.4 277.4h.9M169.6 272.6h.9M161.4 282.4h.9M164.6 276.2h.9M171.1 288.4h.9M159.8 282.9h.9M161.1 278.8h.9M168.4 281.6h.9M163.5 281.5h.9M158.7 287.1h.9M160.6 287.5h.9M161.9 278.7h.9M214.9 267.0h.9M197.9 263.3h.9M207.8 275.4h.9M207.9 264.0h.9M194.0 262.6h.9M202.0 267.2h.9M197.8 272.4h.9M195.3 262.4h.9M207.0 268.4h.9M199.9 270.8h.9M191.7 274.2h.9M220.5 275.8h.9M204.0 275.8h.9M203.4 272.6h.9M201.4 267.0h.9M207.2 257.3h.9M201.3 274.6h.9M179.6 267.9h.9M210.4 267.6h.9M204.6 272.9h.9M205.7 256.5h.9M195.4 264.5h.9M204.2 263.8h.9M202.2 274.3h.9M179.5 271.8h.9M210.5 269.0h.9M203.1 266.3h.9M205.9 267.2h.9M197.2 269.9h.9M196.4 265.8h.9M200.1 260.2h.9M207.8 265.7h.9M193.7 265.6h.9M192.0 273.2h.9M207.1 275.9h.9M198.5 269.5h.9M195.3 261.7h.9M202.3 268.1h.9M210.4 264.7h.9M211.8 270.8h.9M196.0 265.1h.9M195.7 274.5h.9M198.6 270.4h.9M210.3 264.7h.9M199.1 267.7h.9M196.8 259.7h.9M195.3 267.7h.9M204.5 274.8h.9M188.4 268.5h.9M193.8 271.8h.9M208.5 266.6h.9M214.7 264.1h.9M198.8 260.8h.9M197.8 266.6h.9M208.4 272.4h.9M200.9 262.4h.9M200.3 263.9h.9M199.3 264.0h.9M196.1 265.7h.9M198.9 265.2h.9M192.0 266.7h.9M207.6 269.2h.9M198.6 260.3h.9M192.7 260.2h.9M197.9 264.5h.9M188.9 269.3h.9M190.8 262.6h.9M197.3 270.1h.9M217.6 264.2h.9M200.8 264.1h.9M201.4 265.2h.9M222.6 260.6h.9M202.1 262.1h.9M205.8 263.4h.9M207.6 260.6h.9M219.7 267.0h.9M189.0 269.5h.9M199.3 260.3h.9M206.5 263.4h.9M208.8 263.3h.9M202.5 276.2h.9M195.0 276.2h.9M184.9 272.1h.9M196.3 280.6h.9M184.3 292.7h.9M213.4 265.9h.9M205.0 274.4h.9M193.2 268.8h.9M212.9 268.5h.9M188.9 269.3h.9M216.7 284.9h.9M171.8 271.5h.9M195.0 271.6h.9M185.1 266.5h.9M193.5 266.4h.9M201.5 293.9h.9M185.5 288.0h.9M195.2 269.7h.9M185.2 267.4h.9M191.6 280.5h.9M202.9 272.8h.9M173.5 274.4h.9M213.1 277.2h.9M189.1 258.7h.9M184.0 279.3h.9M176.9 285.6h.9M182.2 268.2h.9M182.0 274.3h.9M203.8 270.6h.9M165.4 274.4h.9M197.2 287.1h.9M174.5 286.7h.9M199.3 278.6h.9M179.4 268.1h.9M176.8 282.3h.9M193.0 283.4h.9M215.1 275.2h.9M189.3 290.1h.9M172.0 271.5h.9M184.9 272.1h.9M192.0 268.4h.9M206.0 264.3h.9M178.8 261.8h.9M170.7 279.6h.9M198.7 273.5h.9M201.6 279.9h.9M182.1 274.7h.9M195.1 290.8h.9M183.9 277.9h.9M197.5 284.6h.9M195.9 283.4h.9M175.4 273.0h.9M163.3 274.6h.9M222.1 276.9h.9M191.2 277.1h.9M192.0 264.7h.9M180.5 273.7h.9M192.3 268.3h.9M188.5 269.3h.9M171.8 269.9h.9M178.9 281.6h.9M208.4 279.6h.9M187.1 270.7h.9M168.4 270.9h.9M211.5 284.1h.9M193.1 273.1h.9M190.1 278.4h.9M189.9 278.4h.9M179.4 275.4h.9M185.2 283.5h.9M172.9 285.2h.9M188.8 271.1h.9M190.3 276.0h.9M186.8 278.4h.9M182.1 261.8h.9M199.6 274.9h.9M212.9 278.1h.9M162.5 284.7h.9M180.5 279.3h.9M220.5 283.6h.9M175.0 274.3h.9M167.9 280.3h.9M197.7 267.1h.9M196.2 282.4h.9M201.1 269.8h.9M180.5 266.3h.9M172.2 277.5h.9M190.5 285.2h.9M193.8 272.5h.9M170.4 287.1h.9M192.3 274.8h.9M176.2 266.9h.9M198.7 267.5h.9M198.0 280.0h.9M184.8 262.4h.9M195.7 286.0h.9M178.7 265.2h.9M205.0 276.2h.9M181.4 284.6h.9M186.2 278.6h.9M184.5 269.2h.9M193.0 268.4h.9M165.6 270.9h.9M207.0 283.6h.9M219.9 282.8h.9M212.2 277.0h.9M184.0 278.7h.9M177.0 280.8h.9M183.8 277.1h.9M178.3 274.0h.9M203.5 273.4h.9M180.7 277.3h.9M202.1 273.6h.9M173.9 263.0h.9M171.6 283.3h.9M188.8 278.8h.9M204.8 277.3h.9M196.6 271.2h.9M167.9 280.0h.9M188.7 279.5h.9M175.4 274.0h.9M217.7 268.6h.9M191.3 285.2h.9M186.8 276.1h.9M160.8 281.1h.9M183.9 285.0h.9M188.8 272.2h.9M196.0 273.2h.9M182.9 287.0h.9M203.5 275.9h.9M201.1 281.5h.9M198.0 275.5h.9M191.0 278.2h.9M197.8 277.8h.9M182.4 274.5h.9M196.3 267.5h.9M189.9 280.9h.9M192.3 272.9h.9M189.7 271.4h.9M203.5 272.2h.9M167.2 265.8h.9M194.1 276.7h.9M183.5 265.0h.9M188.0 268.7h.9M181.0 275.1h.9M179.5 277.5h.9M179.9 271.5h.9M186.9 286.3h.9M211.6 282.4h.9M179.9 275.2h.9" stroke="#000" stroke-width="1" stroke-opacity="0.4" fill="none" filter="url(#pb)"/>
</g>
<ellipse cx="201.5" cy="258.5" rx="18.4" ry="14.9" fill="none" stroke="#000" stroke-width="1"/>
<text x="195.8" y="239.4" font-size="9.75" text-anchor="start" >11.4±2.1</text>
<rect x="154.29999999999998" y="226.6" width="1.8" height="3" fill="#a4a4a4"/>
<rect x="158.7" y="290.9" width="2.6" height="1.8" fill="#a4a4a4"/>
<rect x="154.29999999999998" y="241.44029484029483" width="1.8" height="3" fill="#a4a4a4"/>
<rect x="178.325" y="290.9" width="2.6" height="1.8" fill="#a4a4a4"/>
<rect x="154.29999999999998" y="256.2805896805897" width="1.8" height="3" fill="#a4a4a4"/>
<rect x="197.95" y="290.9" width="2.6" height="1.8" fill="#a4a4a4"/>
<rect x="154.29999999999998" y="271.1208845208845" width="1.8" height="3" fill="#a4a4a4"/>
<rect x="217.575" y="290.9" width="2.6" height="1.8" fill="#a4a4a4"/>
<rect x="154.29999999999998" y="285.96117936117935" width="1.8" height="3" fill="#a4a4a4"/>
<rect x="237.2" y="290.9" width="2.6" height="1.8" fill="#a4a4a4"/>
<rect x="99.2" y="320.7" width="78.39999999999999" height="58.69999999999999" fill="none" stroke="#999" stroke-width="0.75"/>
<g clip-path="url(#cp3)">
<ellipse cx="114" cy="348" rx="9" ry="17" fill="url(#hz)" transform="rotate(10 114 348)"/>
<ellipse cx="124" cy="366" rx="16" ry="9" fill="url(#hz)" transform="rotate(0 124 366)"/>
<ellipse cx="142" cy="356" rx="16" ry="10" fill="url(#hz)" transform="rotate(0 142 356)"/>
<ellipse cx="139.5" cy="364" rx="13.5" ry="10" fill="url(#bg)" transform="rotate(-8 139.5 364)"/>
<ellipse cx="139.5" cy="369" rx="7" ry="7" fill="url(#b2)" transform="rotate(0 139.5 369)"/>
<ellipse cx="109.3" cy="369" rx="13" ry="11" fill="url(#b2)" transform="rotate(-10 109.3 369)"/>
<path d="M144.9 366.6h.9M129.9 365.2h.9M135.2 367.8h.9M143.2 361.3h.9M152.1 361.1h.9M153.8 361.3h.9M139.0 372.0h.9M136.4 362.6h.9M148.2 362.6h.9M142.3 358.5h.9M150.0 366.6h.9M141.6 366.7h.9M136.6 362.5h.9M130.3 366.9h.9M146.8 366.5h.9M144.9 366.2h.9M134.1 359.5h.9M143.3 364.2h.9M145.3 362.1h.9M134.3 366.7h.9M136.2 357.8h.9M135.9 361.0h.9M133.0 362.8h.9M145.1 372.9h.9M149.6 360.9h.9M146.2 362.8h.9M141.9 360.9h.9M139.1 357.2h.9M150.0 359.4h.9M142.9 361.2h.9M141.1 359.0h.9M137.3 368.1h.9M143.0 355.6h.9M144.5 358.0h.9M141.2 366.0h.9M135.7 363.3h.9M138.1 365.9h.9M144.9 368.9h.9M141.4 372.0h.9M133.9 372.2h.9M138.0 367.4h.9M138.8 364.5h.9M134.1 366.5h.9M151.4 362.9h.9M139.4 364.1h.9M143.7 362.6h.9M139.5 365.0h.9M147.2 366.8h.9M133.3 362.4h.9M139.6 367.5h.9M145.2 362.4h.9M152.0 361.6h.9M147.8 368.7h.9M148.9 363.5h.9M142.9 357.3h.9M129.0 363.1h.9M143.7 367.8h.9M138.9 368.4h.9M142.9 369.8h.9M130.2 362.0h.9M133.9 360.6h.9M149.2 358.9h.9M134.6 363.2h.9M144.7 361.4h.9M143.8 365.7h.9M135.7 354.9h.9M134.1 359.8h.9M149.1 359.7h.9M133.2 366.5h.9M139.8 360.2h.9M145.9 366.9h.9M141.1 360.7h.9M134.4 356.4h.9M141.8 365.3h.9M134.1 365.0h.9M158.8 356.6h.9M129.5 368.0h.9M137.0 362.4h.9M143.2 363.0h.9M145.3 365.3h.9M146.3 363.6h.9M126.8 371.5h.9M129.5 369.8h.9M141.0 358.2h.9M139.9 367.6h.9M133.5 365.1h.9M135.2 360.6h.9M135.9 369.8h.9M143.5 363.3h.9M139.0 364.6h.9M141.2 364.6h.9M129.4 369.3h.9M134.5 354.1h.9M143.6 358.5h.9M138.7 363.8h.9M136.0 366.8h.9M137.9 363.1h.9M133.9 363.7h.9M133.4 365.1h.9M147.3 367.0h.9M142.0 358.1h.9M145.6 367.0h.9M151.6 353.0h.9M139.6 362.7h.9M145.9 358.7h.9M137.3 373.9h.9M145.4 355.0h.9M139.6 369.6h.9M135.9 367.0h.9M140.1 358.0h.9M135.8 369.2h.9M146.5 360.5h.9M146.1 360.1h.9M141.0 363.7h.9M132.1 366.4h.9M137.2 353.1h.9M134.6 361.3h.9M134.6 360.7h.9M135.4 354.6h.9M144.8 363.6h.9M141.0 362.7h.9M139.9 362.9h.9M133.1 358.7h.9M139.9 368.1h.9M140.9 370.5h.9M131.4 364.1h.9M135.9 369.6h.9M149.5 360.4h.9M143.8 362.4h.9M133.6 364.4h.9M133.4 371.3h.9M143.0 368.4h.9M141.6 353.7h.9M144.2 363.7h.9M125.4 366.5h.9M145.5 370.2h.9M133.5 368.2h.9M141.5 363.0h.9M137.8 366.4h.9M142.9 366.2h.9M137.1 358.9h.9M147.3 368.2h.9M136.2 364.4h.9M144.3 356.1h.9M142.4 373.6h.9M141.1 360.9h.9M151.6 362.3h.9M140.8 362.1h.9M140.6 356.5h.9M131.9 359.0h.9M144.8 362.9h.9M146.3 354.6h.9M136.0 370.5h.9M134.8 357.0h.9M135.1 363.2h.9M139.4 369.4h.9M147.3 369.3h.9M142.9 361.4h.9M136.6 358.3h.9M147.0 368.1h.9M140.0 360.3h.9M143.5 365.4h.9M140.4 359.1h.9M140.9 361.5h.9M143.9 365.8h.9M142.1 361.9h.9M148.5 365.9h.9M147.0 366.4h.9M143.4 365.1h.9M133.2 357.4h.9M134.0 367.4h.9M144.9 364.0h.9M140.0 371.5h.9M137.2 357.0h.9M130.4 364.0h.9M143.6 366.4h.9M138.2 367.6h.9M139.2 361.1h.9M137.3 367.5h.9M145.1 358.5h.9M133.7 365.4h.9M152.0 357.3h.9M132.1 366.8h.9M142.5 361.0h.9M139.3 366.0h.9M129.2 365.4h.9M143.0 367.3h.9M146.4 362.7h.9M131.0 370.8h.9M144.0 360.7h.9M145.6 367.4h.9M138.7 354.4h.9M136.7 361.3h.9M134.6 364.4h.9M133.1 366.5h.9M150.6 357.5h.9M145.6 360.9h.9M142.7 363.0h.9M147.0 360.0h.9M143.8 360.2h.9M140.8 363.7h.9M145.9 356.5h.9M131.6 370.9h.9M141.8 370.7h.9M133.4 365.8h.9M143.0 370.8h.9M139.2 362.2h.9M143.7 363.0h.9M135.1 367.8h.9M128.3 361.4h.9M147.5 360.8h.9M137.6 365.8h.9M146.1 365.2h.9M133.8 362.5h.9M145.7 362.6h.9M135.8 368.2h.9M146.2 372.0h.9M133.2 362.0h.9M135.4 366.1h.9M136.7 369.0h.9M123.7 370.3h.9M135.7 363.4h.9M142.8 364.4h.9M133.6 371.1h.9M142.9 361.5h.9M140.7 359.3h.9M132.3 363.8h.9M141.6 364.1h.9M135.0 358.9h.9M129.7 372.0h.9M141.7 360.4h.9M146.5 365.2h.9M137.1 361.8h.9M146.2 364.4h.9M149.1 364.1h.9M136.1 362.0h.9M135.4 365.7h.9M141.0 366.3h.9M142.1 359.3h.9M138.3 360.3h.9M142.3 358.1h.9M136.1 361.0h.9M135.9 363.5h.9M148.3 361.6h.9M131.1 364.0h.9M143.9 365.6h.9M140.9 372.0h.9M146.0 363.4h.9M146.6 357.4h.9M138.5 360.6h.9M140.5 370.5h.9M136.6 371.0h.9M133.5 370.8h.9M129.6 361.9h.9M145.3 362.8h.9M140.3 363.8h.9M140.6 363.1h.9M133.8 363.6h.9M140.1 360.2h.9M142.2 370.9h.9M129.9 363.2h.9M137.9 364.3h.9M140.1 360.9h.9M139.3 364.1h.9M139.0 370.4h.9M140.3 357.8h.9M130.4 367.8h.9M137.5 361.7h.9M131.6 363.9h.9M139.0 361.2h.9M137.5 368.0h.9M144.1 365.6h.9M138.5 358.5h.9M144.0 369.5h.9M146.9 367.7h.9M141.1 365.3h.9M139.4 369.2h.9M137.9 373.1h.9M144.0 362.0h.9M139.5 357.4h.9M135.2 363.4h.9M153.8 358.5h.9M144.9 363.5h.9M137.8 366.8h.9M127.9 369.6h.9M150.8 363.6h.9M139.1 364.7h.9M143.4 361.4h.9M140.2 366.0h.9M137.5 365.9h.9M141.4 366.7h.9M133.8 362.6h.9M137.0 369.3h.9M141.0 356.9h.9M132.1 373.1h.9M141.5 358.4h.9M134.2 365.4h.9M147.8 369.5h.9M137.4 363.1h.9M150.7 358.3h.9M148.6 364.1h.9M140.1 369.2h.9M142.3 360.1h.9M130.6 365.4h.9M142.5 369.2h.9M124.3 371.8h.9M143.1 369.7h.9M144.1 364.2h.9M142.0 365.3h.9M135.8 364.1h.9M140.2 362.0h.9M131.0 359.3h.9M142.4 365.7h.9M140.1 359.1h.9M144.5 361.7h.9M127.4 372.3h.9M130.8 374.6h.9M142.6 361.7h.9M125.8 363.1h.9M148.1 368.4h.9M141.0 356.7h.9M137.3 363.2h.9M142.2 363.1h.9M141.5 356.9h.9M135.8 370.5h.9M131.0 369.1h.9M153.0 364.7h.9M131.4 370.3h.9M128.7 367.0h.9M137.1 369.5h.9M146.4 363.8h.9M149.9 366.5h.9M136.7 360.3h.9M153.8 360.2h.9M141.9 363.2h.9M136.7 357.7h.9M138.7 363.6h.9M145.2 361.0h.9M130.4 360.9h.9M139.3 365.1h.9M143.7 361.8h.9M142.6 364.1h.9M149.3 362.3h.9M140.3 366.2h.9M146.6 359.1h.9M136.7 363.3h.9M127.1 371.2h.9M145.8 363.2h.9M159.1 366.4h.9M151.3 368.8h.9M144.8 357.3h.9M148.4 364.4h.9M132.5 365.2h.9M143.9 367.4h.9M140.5 361.7h.9M144.0 360.2h.9M139.1 367.2h.9M131.1 366.8h.9M128.1 361.8h.9M132.3 364.7h.9M143.7 363.2h.9M144.8 363.6h.9M138.3 366.2h.9M138.1 364.8h.9M145.6 360.7h.9M146.2 358.4h.9M138.2 357.0h.9M136.4 371.1h.9M141.6 369.0h.9M130.9 361.1h.9M142.2 367.0h.9M144.4 356.3h.9M142.5 363.3h.9M140.2 365.9h.9M137.9 357.2h.9M133.3 358.9h.9M131.8 364.6h.9M147.1 359.9h.9M135.0 359.9h.9M129.4 365.8h.9M136.7 363.4h.9M133.9 366.8h.9M132.5 367.3h.9M135.6 367.8h.9M134.3 366.6h.9M142.1 363.3h.9M149.0 363.3h.9M134.3 367.6h.9M134.7 362.5h.9M139.6 364.7h.9M149.5 355.3h.9M138.0 368.9h.9M138.6 365.5h.9M148.4 357.6h.9M139.8 367.3h.9M136.1 357.2h.9M133.7 365.7h.9M140.6 371.5h.9M147.3 356.4h.9M145.6 366.9h.9M149.0 362.0h.9M136.2 365.1h.9M148.5 365.3h.9M149.4 365.8h.9M136.1 360.3h.9M150.3 356.1h.9M137.5 363.0h.9M134.2 362.4h.9M139.5 373.9h.9M139.1 361.9h.9M140.2 367.8h.9M134.7 363.0h.9M129.3 368.4h.9M143.5 369.7h.9M132.5 374.1h.9M144.6 362.1h.9M137.2 363.0h.9M132.4 368.3h.9M135.9 361.5h.9M142.5 364.0h.9M136.1 363.5h.9M136.6 370.0h.9M145.4 360.1h.9M139.3 369.8h.9M137.8 371.7h.9M142.1 366.4h.9M127.4 369.3h.9M141.5 366.1h.9M142.3 365.8h.9M136.5 368.2h.9M139.9 359.6h.9M133.5 365.5h.9M141.5 354.5h.9M127.4 370.2h.9M139.4 375.9h.9M130.5 364.3h.9M136.0 366.8h.9M147.7 369.5h.9M133.6 370.0h.9M132.4 366.3h.9M140.5 366.4h.9M134.8 370.3h.9M139.1 364.0h.9M137.9 359.8h.9M143.7 364.8h.9M142.2 371.4h.9M134.4 363.6h.9M139.5 367.6h.9M138.5 368.1h.9M142.2 356.3h.9M135.5 356.1h.9M137.8 362.5h.9M143.0 364.2h.9M139.1 369.3h.9M143.0 358.3h.9M135.5 366.0h.9M149.5 361.7h.9M138.5 365.3h.9M144.1 363.0h.9M141.2 362.0h.9M136.3 361.2h.9M143.4 361.1h.9M142.7 365.2h.9M145.2 351.9h.9M133.8 359.7h.9M138.5 367.5h.9M154.3 368.3h.9M147.5 364.4h.9M137.2 366.6h.9M126.7 369.8h.9M139.6 366.6h.9M133.5 360.3h.9M135.7 364.4h.9M141.5 362.2h.9M141.5 366.5h.9M132.7 364.6h.9M130.4 363.0h.9M144.8 360.2h.9M150.4 364.5h.9M144.7 363.7h.9M144.6 367.8h.9M140.1 361.7h.9M136.3 372.6h.9M138.4 362.2h.9M135.4 357.5h.9M136.6 365.8h.9M136.7 361.2h.9M141.9 365.6h.9M136.9 365.7h.9M133.8 368.4h.9M133.7 363.4h.9M140.3 362.1h.9M132.8 373.8h.9M148.4 355.4h.9M140.2 358.6h.9M141.3 358.3h.9M142.9 365.7h.9M149.5 367.6h.9M136.8 368.4h.9M136.8 363.9h.9M106.8 361.7h.9M112.4 360.1h.9M108.1 371.3h.9M109.9 362.2h.9M106.0 372.2h.9M114.9 375.3h.9M100.1 371.7h.9M106.9 372.5h.9M100.7 369.1h.9M112.9 365.9h.9M107.5 365.0h.9M115.0 362.9h.9M104.7 368.0h.9M107.7 378.1h.9M110.7 365.3h.9M112.3 370.2h.9M110.7 368.6h.9M111.6 363.8h.9M103.2 367.7h.9M103.7 372.5h.9M119.2 373.4h.9M111.6 370.2h.9M105.8 363.8h.9M112.1 362.5h.9M110.8 368.3h.9M113.1 368.9h.9M109.8 366.5h.9M100.6 368.3h.9M112.8 373.2h.9M116.3 364.2h.9M104.5 372.4h.9M107.0 380.2h.9M110.9 362.4h.9M106.5 375.9h.9M100.0 370.4h.9M102.3 376.4h.9M107.0 364.8h.9M100.6 366.7h.9M96.3 368.1h.9M120.4 368.5h.9M108.0 364.2h.9M111.0 366.8h.9M105.0 375.3h.9M111.5 365.0h.9M116.8 368.1h.9M111.9 369.4h.9M115.3 371.1h.9M107.5 372.2h.9M107.3 369.7h.9M117.6 363.8h.9M104.0 367.7h.9M106.8 374.8h.9M101.2 379.5h.9M117.4 366.4h.9M110.2 367.4h.9M112.7 371.5h.9M113.1 371.9h.9M119.1 367.4h.9M112.9 367.9h.9M109.5 369.9h.9M109.0 370.5h.9M105.0 368.7h.9M106.2 364.3h.9M105.7 367.2h.9M108.5 362.4h.9M108.0 364.3h.9M105.1 370.2h.9M114.9 369.7h.9M106.8 367.3h.9M116.1 361.5h.9M115.1 362.1h.9M106.1 369.5h.9M108.2 376.2h.9M111.8 368.6h.9M114.2 368.8h.9M105.2 374.1h.9M116.9 373.8h.9M103.3 377.7h.9M107.2 372.5h.9M115.4 378.6h.9M101.1 365.3h.9M115.3 370.6h.9M107.7 356.6h.9M111.5 368.0h.9M96.0 381.6h.9M96.6 367.7h.9M109.3 370.0h.9M113.1 367.5h.9M104.7 367.8h.9M98.6 365.1h.9M119.4 365.2h.9M108.9 377.1h.9M114.7 369.1h.9M113.0 367.5h.9M104.7 373.7h.9M110.0 375.8h.9M108.0 367.5h.9M111.1 368.0h.9M107.7 365.3h.9M110.6 370.3h.9M118.6 368.1h.9M100.4 371.7h.9M121.0 366.1h.9M105.2 368.6h.9M94.7 368.8h.9M108.3 362.6h.9M112.2 365.0h.9M99.9 366.7h.9M112.5 377.0h.9M115.7 369.3h.9M106.7 368.1h.9M114.2 366.4h.9M111.4 373.0h.9M104.7 366.9h.9M111.6 368.8h.9M108.7 366.8h.9M109.0 377.0h.9M116.2 361.5h.9M109.5 369.4h.9M109.5 363.1h.9M108.6 369.7h.9M105.8 370.6h.9M96.9 363.6h.9M109.8 370.6h.9M108.5 367.1h.9M110.2 373.6h.9M113.9 368.3h.9M106.9 373.8h.9M112.1 372.6h.9M107.9 365.4h.9M110.3 366.2h.9M115.2 372.2h.9M98.2 372.8h.9M116.1 372.9h.9M106.9 365.5h.9M114.3 372.9h.9M109.6 364.0h.9M101.5 370.8h.9M105.1 366.4h.9M111.6 373.3h.9M98.8 367.0h.9M115.9 368.3h.9M107.6 371.9h.9M103.5 364.3h.9M109.4 375.7h.9M114.5 368.5h.9M114.5 366.8h.9M103.3 362.3h.9M110.7 372.7h.9M111.2 368.7h.9M107.3 373.8h.9M109.1 362.8h.9M116.3 365.6h.9M111.3 368.8h.9M114.7 369.6h.9M115.6 369.4h.9M106.9 367.0h.9M112.6 365.2h.9M114.0 367.6h.9M104.6 365.7h.9M108.6 376.7h.9M113.2 368.8h.9M104.7 377.6h.9M107.9 369.1h.9M107.1 374.9h.9M110.2 367.0h.9M110.2 364.6h.9M103.9 368.8h.9M94.6 375.3h.9M119.5 363.4h.9M108.6 362.3h.9M110.2 369.8h.9M113.1 363.0h.9M106.2 366.5h.9M108.0 378.9h.9M108.3 368.9h.9M106.7 372.6h.9M122.4 372.9h.9M117.1 363.7h.9M114.7 368.7h.9M115.7 373.0h.9M112.6 361.5h.9M110.0 366.8h.9M111.6 369.0h.9M114.7 361.7h.9M105.5 369.0h.9M110.9 367.1h.9M109.2 369.3h.9M114.7 368.1h.9M110.5 361.1h.9M95.9 363.8h.9M111.1 358.9h.9M111.4 368.4h.9M109.3 365.9h.9M107.2 372.8h.9M111.1 368.7h.9M106.8 370.1h.9M115.4 368.4h.9M107.4 364.1h.9M109.8 365.0h.9M102.0 373.4h.9M106.1 360.5h.9M105.6 377.2h.9M108.8 363.4h.9M103.7 372.6h.9M111.4 369.7h.9M108.3 371.2h.9M117.2 370.4h.9M108.5 363.1h.9M111.6 375.5h.9M112.6 363.3h.9M110.2 374.5h.9M106.1 371.4h.9M115.5 375.5h.9M101.2 362.2h.9M111.2 371.9h.9M107.5 369.1h.9M107.2 374.3h.9M98.0 371.1h.9M102.8 366.6h.9M101.5 365.7h.9M109.2 369.1h.9M118.5 367.3h.9M111.1 370.4h.9M110.6 375.2h.9M110.0 369.6h.9M108.7 369.1h.9M109.0 373.3h.9M109.4 369.3h.9M109.1 372.3h.9M106.9 373.3h.9M106.4 372.2h.9M119.1 369.2h.9M108.9 363.9h.9M113.1 368.7h.9M114.0 365.8h.9M112.0 376.6h.9M111.4 367.4h.9M102.6 369.5h.9M112.7 371.3h.9M103.6 365.1h.9M104.3 365.0h.9M107.9 370.3h.9M119.2 369.0h.9M116.8 361.2h.9M117.2 371.8h.9M111.6 372.4h.9M112.5 377.0h.9M113.4 361.1h.9M100.3 376.7h.9M108.9 374.7h.9M107.5 366.3h.9M107.5 370.5h.9M110.3 366.2h.9M112.1 371.4h.9M104.6 364.6h.9M99.2 368.5h.9M109.4 366.0h.9M106.2 368.7h.9M109.5 371.5h.9M113.6 370.5h.9M115.0 364.3h.9M112.4 370.3h.9M103.9 366.5h.9M111.6 369.1h.9M102.8 367.2h.9M117.1 372.0h.9M109.7 374.8h.9M104.6 368.7h.9M114.2 367.1h.9M103.6 372.0h.9M117.5 357.3h.9M110.1 363.5h.9M107.8 363.0h.9M122.7 364.9h.9M109.5 365.9h.9M104.2 367.5h.9M110.4 376.5h.9M110.8 375.6h.9M103.8 369.8h.9M107.1 362.4h.9M128.5 366.3h.9M110.6 365.6h.9M106.3 364.8h.9M114.6 366.8h.9M108.6 369.8h.9M103.0 370.5h.9M108.4 371.0h.9M107.3 369.3h.9M112.0 373.0h.9M105.8 373.5h.9M104.2 368.6h.9M110.0 369.6h.9M96.5 365.9h.9M108.4 373.1h.9M105.7 375.8h.9M100.0 370.1h.9M112.1 368.8h.9M110.7 372.9h.9M105.2 371.9h.9M114.8 367.5h.9M97.4 364.9h.9M104.9 364.8h.9M111.5 365.3h.9M122.0 370.4h.9M102.6 368.3h.9M117.2 371.3h.9M104.1 373.9h.9M106.9 378.8h.9M106.5 371.8h.9M112.2 366.8h.9M108.5 374.1h.9M111.9 368.5h.9M111.6 376.4h.9M114.1 370.7h.9M111.0 362.1h.9M110.0 366.8h.9M113.1 366.1h.9M111.6 364.3h.9M113.9 365.5h.9M109.2 371.5h.9M107.6 369.2h.9M114.8 376.2h.9M100.0 365.9h.9M112.8 372.8h.9M106.9 369.6h.9M108.3 378.9h.9M108.3 363.9h.9M101.3 364.2h.9M116.0 366.8h.9M119.3 370.9h.9M111.3 371.6h.9M113.4 372.6h.9M104.3 367.0h.9M106.5 369.7h.9M108.0 363.8h.9M105.7 377.0h.9M120.2 364.4h.9M111.3 368.7h.9M105.0 372.5h.9M108.9 376.2h.9M111.6 367.5h.9M95.7 369.7h.9M113.7 365.5h.9M113.8 371.6h.9M100.2 368.9h.9M110.9 372.1h.9M110.1 368.9h.9M107.5 367.9h.9M109.3 364.4h.9M112.6 367.3h.9M112.0 366.6h.9M111.4 369.4h.9M113.9 370.6h.9M114.1 367.9h.9M109.0 367.9h.9M102.9 369.0h.9M114.9 371.9h.9M104.9 370.7h.9M113.2 362.8h.9M111.1 370.3h.9M113.1 369.8h.9M100.4 361.0h.9M119.5 366.4h.9M115.8 373.9h.9M109.7 364.0h.9M116.3 368.2h.9M112.0 370.8h.9M114.2 373.0h.9M102.0 363.5h.9M110.0 369.0h.9M113.3 368.1h.9M108.4 377.8h.9M116.4 373.4h.9M114.6 365.1h.9M108.9 368.7h.9M103.7 365.7h.9M110.1 363.7h.9M112.1 370.8h.9M108.1 367.6h.9M112.4 370.8h.9M111.2 363.6h.9M101.0 378.5h.9M105.9 367.7h.9M99.9 366.4h.9M105.5 372.8h.9M95.7 364.1h.9M107.2 367.1h.9M105.3 367.4h.9M101.2 370.8h.9M115.4 369.1h.9M106.5 374.7h.9M111.8 364.4h.9M106.4 366.6h.9M109.1 374.2h.9M105.7 368.7h.9M109.9 363.8h.9M106.9 371.8h.9M115.1 360.4h.9M112.9 367.4h.9M115.9 371.1h.9M119.4 369.5h.9M107.3 365.6h.9M101.9 372.0h.9M112.0 372.3h.9M111.1 362.4h.9M107.2 368.1h.9M110.1 372.2h.9M116.6 369.6h.9M98.7 365.5h.9M98.3 366.6h.9M103.1 370.5h.9M108.2 373.9h.9M114.8 366.6h.9M114.2 368.6h.9M111.6 374.6h.9M103.4 369.2h.9M117.2 365.0h.9M110.4 369.5h.9M107.2 363.6h.9M110.6 339.3h.9M119.3 350.2h.9M117.5 337.5h.9M116.5 349.3h.9M119.2 341.6h.9M118.0 360.1h.9M122.9 339.8h.9M108.5 335.1h.9M118.8 353.3h.9M115.7 340.4h.9M120.2 362.2h.9M113.8 346.9h.9M119.9 352.5h.9M120.6 344.4h.9M115.7 345.0h.9M111.2 345.4h.9M112.6 352.5h.9M112.5 348.6h.9M110.0 337.2h.9M121.1 339.3h.9M123.0 356.3h.9M102.7 342.4h.9M111.9 348.2h.9M113.1 342.7h.9M120.2 346.9h.9M118.8 342.0h.9M110.6 359.8h.9M112.6 338.3h.9M113.2 357.3h.9M113.2 341.7h.9M117.1 356.7h.9M113.0 345.2h.9M112.2 371.8h.9M113.1 363.4h.9M113.3 351.6h.9M103.9 349.6h.9M114.3 345.2h.9M112.0 336.0h.9M106.7 349.5h.9M110.9 347.2h.9M113.1 343.5h.9M110.4 364.4h.9M108.6 343.5h.9M112.6 337.8h.9M109.3 355.6h.9M118.6 349.2h.9M130.0 355.3h.9M120.1 340.8h.9M119.4 362.8h.9M112.1 363.9h.9M110.0 338.0h.9M113.8 340.9h.9M117.2 338.3h.9M114.4 330.8h.9M113.9 357.3h.9M112.7 350.8h.9M119.4 338.4h.9M107.7 348.7h.9M115.4 345.7h.9M109.2 358.7h.9M108.3 345.7h.9M113.8 354.4h.9M111.8 340.8h.9M124.0 340.6h.9M118.0 346.7h.9M111.7 347.6h.9M112.8 350.7h.9M101.5 347.8h.9M114.4 339.5h.9M112.1 368.6h.9M123.1 353.6h.9M115.2 345.3h.9M120.9 344.1h.9M110.0 354.1h.9M109.2 341.1h.9M121.2 333.9h.9M113.7 349.1h.9M115.3 335.2h.9M112.9 345.1h.9M123.5 356.8h.9M110.3 355.7h.9M117.2 347.0h.9M112.8 345.6h.9M106.4 342.5h.9M118.6 360.7h.9M123.2 344.7h.9M117.1 326.9h.9M112.7 336.9h.9M118.1 333.4h.9M108.9 338.3h.9M116.0 355.4h.9M109.5 363.8h.9M114.8 340.7h.9M115.7 347.9h.9M118.1 351.0h.9M124.8 358.3h.9M110.9 354.9h.9M117.8 339.2h.9M110.3 340.9h.9M101.8 353.6h.9M113.0 358.8h.9M111.3 348.7h.9M117.6 356.5h.9M115.6 338.9h.9M124.9 355.6h.9M120.7 362.2h.9M121.0 351.7h.9M116.4 353.6h.9M106.6 355.1h.9M109.2 351.7h.9M109.0 354.3h.9M111.6 369.8h.9M115.0 352.5h.9M109.6 345.5h.9M113.7 345.5h.9M111.9 340.3h.9M117.8 344.6h.9M110.0 351.2h.9M110.0 346.5h.9M111.5 339.9h.9M112.9 340.8h.9M107.9 351.1h.9M112.6 335.2h.9M112.1 349.6h.9M116.1 351.3h.9M115.3 353.2h.9M111.6 341.0h.9M117.1 344.4h.9M114.1 353.7h.9M118.7 358.7h.9M110.6 344.8h.9M116.8 335.5h.9M107.8 353.3h.9M111.0 339.9h.9M118.0 352.7h.9M118.6 345.1h.9M112.6 345.0h.9M115.5 330.2h.9M110.6 354.2h.9M110.2 347.4h.9M114.7 352.6h.9M111.7 338.1h.9M126.3 341.7h.9M122.5 332.6h.9M114.6 346.3h.9M123.4 365.9h.9M118.9 339.1h.9M110.1 341.4h.9M111.5 350.3h.9M110.2 345.9h.9M121.3 360.6h.9M104.9 339.7h.9M112.2 359.4h.9M112.4 364.7h.9M115.8 360.6h.9M109.8 345.3h.9M119.1 353.0h.9M104.9 345.6h.9M114.9 353.5h.9M110.9 363.2h.9M114.8 360.7h.9M116.0 348.7h.9M112.5 337.8h.9M118.3 354.6h.9M118.6 344.7h.9M109.1 344.7h.9M112.5 347.9h.9M118.9 340.0h.9M111.7 354.0h.9M118.5 367.3h.9M116.6 340.6h.9M108.9 341.1h.9M114.4 350.2h.9M113.7 342.7h.9M113.1 347.3h.9M117.0 348.7h.9M110.1 337.8h.9M121.3 347.3h.9M113.2 347.8h.9M119.6 345.3h.9M114.9 345.9h.9M116.9 339.2h.9M115.1 357.0h.9M119.9 353.4h.9M115.5 361.7h.9M117.5 360.2h.9M108.2 338.4h.9M118.0 345.7h.9M111.9 339.7h.9M121.3 337.6h.9M114.6 335.9h.9M113.2 367.6h.9M126.0 343.7h.9M109.1 362.2h.9M109.9 332.5h.9M115.8 338.6h.9M107.0 357.8h.9M110.5 338.7h.9M114.9 346.4h.9M119.6 348.8h.9M121.9 357.9h.9M122.8 357.8h.9M114.4 352.8h.9M114.2 334.5h.9M108.3 354.5h.9M102.5 340.8h.9M107.8 347.5h.9M109.0 350.2h.9M113.1 343.9h.9M109.9 328.7h.9M114.4 336.8h.9M112.6 351.2h.9M119.2 354.1h.9M121.3 335.7h.9M117.4 361.7h.9M116.0 338.4h.9M116.0 343.5h.9M110.9 357.3h.9M113.2 338.3h.9M110.8 365.1h.9M109.9 353.9h.9M114.9 358.2h.9M112.7 339.8h.9M110.9 339.1h.9M126.8 349.7h.9M112.5 359.0h.9M117.3 346.4h.9M117.1 350.4h.9M119.6 362.4h.9M112.5 347.7h.9M113.2 358.7h.9M116.0 354.8h.9M118.5 342.5h.9M114.7 360.1h.9M118.6 355.1h.9M112.7 344.9h.9M109.9 345.7h.9M113.8 335.6h.9M119.8 341.4h.9M115.3 353.3h.9M117.7 351.8h.9M138.4 366.8h.9M121.8 371.7h.9M137.5 357.6h.9M124.1 352.1h.9M121.6 373.6h.9M113.8 369.6h.9M104.6 362.0h.9M138.1 375.6h.9M131.4 369.1h.9M148.7 347.5h.9M101.9 376.8h.9M158.9 368.1h.9M126.1 365.8h.9M125.6 359.9h.9M125.0 363.2h.9M134.4 368.6h.9M138.6 368.0h.9M112.0 373.4h.9M88.7 364.8h.9M129.8 360.4h.9M150.8 356.6h.9M109.3 360.6h.9M130.9 369.4h.9M126.7 368.5h.9M115.7 359.9h.9M127.0 354.9h.9M127.8 361.4h.9M134.6 357.2h.9M118.0 360.2h.9M120.2 357.3h.9M121.7 354.9h.9M132.5 368.6h.9M125.0 362.7h.9M113.1 357.5h.9M122.3 357.9h.9M109.2 365.1h.9M125.0 361.3h.9M114.2 363.7h.9M115.8 361.1h.9M127.8 368.9h.9M135.5 359.9h.9M141.7 356.2h.9M122.9 372.8h.9M157.5 364.9h.9M120.3 361.5h.9M108.7 363.0h.9M119.5 358.9h.9M141.5 358.8h.9M148.2 369.7h.9M133.9 360.0h.9M118.3 350.5h.9M128.9 362.2h.9M130.5 359.5h.9M131.8 353.9h.9M95.5 367.2h.9M139.8 342.7h.9M142.7 361.7h.9M123.0 353.6h.9M111.7 368.8h.9M115.3 363.8h.9M123.1 377.5h.9M137.3 355.1h.9M118.7 356.3h.9M106.4 359.4h.9M140.1 364.3h.9M134.3 363.1h.9M119.5 364.6h.9M124.2 377.0h.9M149.5 366.6h.9M133.4 350.5h.9M123.5 380.2h.9M114.4 369.5h.9M141.7 361.3h.9M122.2 360.9h.9M136.0 364.2h.9M145.5 372.0h.9M125.1 381.6h.9M121.0 359.9h.9M122.0 358.1h.9M119.5 363.5h.9M137.2 353.3h.9M106.3 358.8h.9M121.1 367.1h.9M114.5 374.2h.9M118.1 362.5h.9M125.9 371.9h.9M129.2 364.2h.9M117.9 365.2h.9M130.6 361.6h.9M124.9 351.5h.9M118.0 372.0h.9M144.4 363.5h.9M96.0 376.4h.9M122.9 381.4h.9M119.6 370.8h.9M116.8 373.3h.9M140.8 356.8h.9M142.7 383.4h.9M122.2 355.8h.9M128.9 361.3h.9M104.9 356.9h.9M128.5 353.7h.9M139.8 367.1h.9M122.7 373.5h.9M112.7 368.7h.9M106.9 361.8h.9M133.8 360.4h.9M123.6 368.4h.9M145.7 372.8h.9M131.4 362.2h.9M105.6 375.7h.9M150.5 349.4h.9M136.9 363.7h.9M134.7 366.2h.9M122.5 364.0h.9M124.6 371.9h.9M121.6 360.3h.9M134.0 368.4h.9M131.0 365.9h.9M145.0 371.6h.9M128.0 362.6h.9M134.0 351.3h.9M118.1 359.2h.9M127.5 361.4h.9M158.3 369.0h.9M130.6 379.3h.9M125.1 361.8h.9M141.7 369.6h.9M137.6 372.2h.9M138.9 343.5h.9M135.9 348.7h.9M150.8 340.9h.9M137.5 338.9h.9M159.4 353.4h.9M144.0 339.7h.9M133.2 343.6h.9M142.4 339.4h.9M140.1 356.3h.9M142.2 348.7h.9M124.0 346.2h.9M140.8 343.3h.9M130.1 347.5h.9M133.2 344.3h.9" stroke="#000" stroke-width="1" stroke-opacity="0.4" fill="none" filter="url(#pb)"/>
</g>
<ellipse cx="139.7" cy="344.2" rx="18.3" ry="14.8" fill="none" stroke="#000" stroke-width="1"/>
<text x="141.6" y="329.2" font-size="9.75" text-anchor="start" >4.7±2.2</text>
<rect x="95.8" y="318.2" width="1.8" height="3" fill="#a4a4a4"/>
<rect x="100.2" y="380.79999999999995" width="2.6" height="1.8" fill="#a4a4a4"/>
<rect x="95.8" y="332.6226044226044" width="1.8" height="3" fill="#a4a4a4"/>
<rect x="119.8" y="380.79999999999995" width="2.6" height="1.8" fill="#a4a4a4"/>
<rect x="95.8" y="347.04520884520883" width="1.8" height="3" fill="#a4a4a4"/>
<rect x="139.4" y="380.79999999999995" width="2.6" height="1.8" fill="#a4a4a4"/>
<rect x="95.8" y="361.46781326781326" width="1.8" height="3" fill="#a4a4a4"/>
<rect x="159.0" y="380.79999999999995" width="2.6" height="1.8" fill="#a4a4a4"/>
<rect x="95.8" y="375.8904176904177" width="1.8" height="3" fill="#a4a4a4"/>
<rect x="178.6" y="380.79999999999995" width="2.6" height="1.8" fill="#a4a4a4"/>
<text x="56.6" y="223.7" font-size="12.5" text-anchor="start" >BALB/c</text>
<text x="161.5" y="222.7" font-size="12.5" text-anchor="start" >BALB/c<tspan font-size="9.8" dy="-5.1">nunu</tspan></text>
<text x="87.6" y="314.3" font-size="12.5" text-anchor="start" >ThyG BALB/c<tspan font-size="9.8" dy="-5.1">nunu</tspan></text>
<path d="M80.9 364V396.4H117" stroke="#000" stroke-width="1.5" fill="none"/>
<path d="M80.9 358.4L77.9 365H83.9Z M122 396.4L115.4 393.4V399.4Z" fill="#000"/>
<text transform="translate(77.4,395.3) rotate(-90) scale(0.8929,1)" font-size="10.64">SCA-1</text>
<text x="82.8" y="408.6" font-size="9.7" text-anchor="start" >CD11b</text>
<path d="M342.1 234.9V295.8H463.3" stroke="#000" stroke-width="1.3" fill="none"/>
<path d="M340.1 235.5H342.1" stroke="#000" stroke-width="1.1"/>
<text x="338.8" y="239.0" font-size="9.0" text-anchor="end" textLength="13.50" lengthAdjust="spacingAndGlyphs" >125</text>
<path d="M340.1 255.5H342.1" stroke="#000" stroke-width="1.1"/>
<text x="338.8" y="259.0" font-size="9.0" text-anchor="end" textLength="13.50" lengthAdjust="spacingAndGlyphs" >100</text>
<path d="M340.1 275.6H342.1" stroke="#000" stroke-width="1.1"/>
<text x="338.8" y="279.1" font-size="9.0" text-anchor="end" textLength="9.00" lengthAdjust="spacingAndGlyphs" >75</text>
<path d="M340.1 295.8H342.1" stroke="#000" stroke-width="1.1"/>
<text x="338.8" y="299.3" font-size="9.0" text-anchor="end" textLength="9.00" lengthAdjust="spacingAndGlyphs" >50</text>
<text x="376.5" y="228.5" font-size="10.0" text-anchor="start" textLength="37.40" lengthAdjust="spacingAndGlyphs" >CFU-GM</text>
<text transform="translate(321.4,301) rotate(-90) scale(1.0000,1)" font-size="8.70" textLength="69.50" lengthAdjust="spacingAndGlyphs">CFU/10<tspan font-size="0.67em" dy="-3">5</tspan><tspan dy="3"> BM cells</tspan></text>
<rect x="365.60" y="267.50" width="3.4" height="3.4" rx="0.4" fill="#000"/>
<rect x="369.50" y="266.40" width="3.4" height="3.4" rx="0.4" fill="#000"/>
<rect x="365.60" y="275.80" width="3.4" height="3.4" rx="0.4" fill="#000"/>
<rect x="361.00" y="285.90" width="3.4" height="3.4" rx="0.4" fill="#000"/>
<rect x="365.60" y="285.90" width="3.4" height="3.4" rx="0.4" fill="#000"/>
<rect x="367.70" y="285.50" width="3.4" height="3.4" rx="0.4" fill="#000"/>
<rect x="369.80" y="285.90" width="3.4" height="3.4" rx="0.4" fill="#000"/>
<path d="M356.9 280.8H377.7" stroke="#000" stroke-width="1.2"/>
<path d="M407.3 249.6L409.6 253.7H405.0Z" fill="#000"/>
<path d="M402.5 253.5L404.8 257.6H400.2Z" fill="#000"/>
<path d="M407.3 259.8L409.6 263.9H405.0Z" fill="#000"/>
<path d="M398.3 262.7L400.6 266.8H396.0Z" fill="#000"/>
<path d="M402.5 262.7L404.8 266.8H400.2Z" fill="#000"/>
<path d="M407.3 266.5L409.6 270.6H405.0Z" fill="#000"/>
<path d="M402.5 269.4L404.8 273.5H400.2Z" fill="#000"/>
<path d="M391.9 262.7H412.5" stroke="#000" stroke-width="1.2"/>
<circle cx="433.1" cy="272.3" r="1.7" fill="#000"/>
<circle cx="442.7" cy="270.8" r="1.7" fill="#000"/>
<circle cx="437.9" cy="274.6" r="1.7" fill="#000"/>
<circle cx="433.1" cy="279.8" r="1.7" fill="#000"/>
<circle cx="437.9" cy="281.3" r="1.7" fill="#000"/>
<circle cx="440.8" cy="280.0" r="1.7" fill="#000"/>
<circle cx="442.7" cy="279.8" r="1.7" fill="#000"/>
<path d="M427.7 280H448.3" stroke="#000" stroke-width="1.2"/>
<text x="345.8" y="304.9" font-size="8.5" text-anchor="start" textLength="31.00" lengthAdjust="spacingAndGlyphs" >BALB/c</text>
<text x="379.7" y="304.9" font-size="8.5" text-anchor="start" textLength="47.90" lengthAdjust="spacingAndGlyphs" >BALB/c<tspan font-size="0.8em" dy="-2.5">nu/nu</tspan></text>
<text x="432.0" y="304.9" font-size="8.5" text-anchor="start" textLength="21.20" lengthAdjust="spacingAndGlyphs" >ThyG</text>
<text x="422.0" y="315.0" font-size="8.5" text-anchor="start" textLength="48.00" lengthAdjust="spacingAndGlyphs" >BALB/c<tspan font-size="0.8em" dy="-2.5">nu/nu</tspan></text>
<path d="M342.1 332.59999999999997V393.8H463.3" stroke="#000" stroke-width="1.3" fill="none"/>
<path d="M340.1 333.2H342.1" stroke="#000" stroke-width="1.1"/>
<text x="338.8" y="336.7" font-size="9.0" text-anchor="end" textLength="9.00" lengthAdjust="spacingAndGlyphs" >75</text>
<path d="M340.1 353.3H342.1" stroke="#000" stroke-width="1.1"/>
<text x="338.8" y="356.8" font-size="9.0" text-anchor="end" textLength="9.00" lengthAdjust="spacingAndGlyphs" >50</text>
<path d="M340.1 373.5H342.1" stroke="#000" stroke-width="1.1"/>
<text x="338.8" y="377.0" font-size="9.0" text-anchor="end" textLength="9.00" lengthAdjust="spacingAndGlyphs" >25</text>
<path d="M340.1 393.8H342.1" stroke="#000" stroke-width="1.1"/>
<text x="338.8" y="397.3" font-size="9.0" text-anchor="end" textLength="4.50" lengthAdjust="spacingAndGlyphs" >0</text>
<text x="385.1" y="334.0" font-size="10.1" text-anchor="start" textLength="28.40" lengthAdjust="spacingAndGlyphs" >BFU-E</text>
<text transform="translate(322.4,398.3) rotate(-90) scale(1.0000,1)" font-size="8.70" textLength="69.50" lengthAdjust="spacingAndGlyphs">BFU/10<tspan font-size="0.67em" dy="-3">6</tspan><tspan dy="3"> BM cells</tspan></text>
<rect x="364.10" y="349.20" width="3.4" height="3.4" rx="0.4" fill="#000"/>
<rect x="364.10" y="355.70" width="3.4" height="3.4" rx="0.4" fill="#000"/>
<rect x="360.00" y="360.80" width="3.4" height="3.4" rx="0.4" fill="#000"/>
<rect x="364.10" y="362.40" width="3.4" height="3.4" rx="0.4" fill="#000"/>
<rect x="360.00" y="366.20" width="3.4" height="3.4" rx="0.4" fill="#000"/>
<rect x="364.10" y="370.50" width="3.4" height="3.4" rx="0.4" fill="#000"/>
<rect x="368.70" y="369.50" width="3.4" height="3.4" rx="0.4" fill="#000"/>
<path d="M353.8 364.5H377.9" stroke="#000" stroke-width="1.2"/>
<path d="M403.3 358.7L405.6 362.8H401.0Z" fill="#000"/>
<path d="M398.8 371.9L401.1 376.0H396.5Z" fill="#000"/>
<path d="M403.3 371.9L405.6 376.0H401.0Z" fill="#000"/>
<path d="M407.5 371.9L409.8 376.0H405.2Z" fill="#000"/>
<path d="M398.8 377.0L401.1 381.1H396.5Z" fill="#000"/>
<path d="M407.5 377.0L409.8 381.1H405.2Z" fill="#000"/>
<path d="M403.3 380.4L405.6 384.5H401.0Z" fill="#000"/>
<path d="M390.3 374.6H414.6" stroke="#000" stroke-width="1.2"/>
<circle cx="439.3" cy="367.1" r="1.7" fill="#000"/>
<circle cx="434.6" cy="373.6" r="1.7" fill="#000"/>
<circle cx="439.3" cy="375.6" r="1.7" fill="#000"/>
<circle cx="443.3" cy="380.3" r="1.7" fill="#000"/>
<circle cx="439.3" cy="383.8" r="1.7" fill="#000"/>
<path d="M427.1 376.2H451.4" stroke="#000" stroke-width="1.2"/>
<text x="345.8" y="402.0" font-size="8.5" text-anchor="start" textLength="31.00" lengthAdjust="spacingAndGlyphs" >BALB/c</text>
<text x="379.7" y="402.0" font-size="8.5" text-anchor="start" textLength="47.90" lengthAdjust="spacingAndGlyphs" >BALB/c<tspan font-size="0.8em" dy="-2.5">nu/nu</tspan></text>
<text x="432.0" y="402.0" font-size="8.5" text-anchor="start" textLength="21.20" lengthAdjust="spacingAndGlyphs" >ThyG</text>
<text x="422.0" y="412.1" font-size="8.5" text-anchor="start" textLength="48.00" lengthAdjust="spacingAndGlyphs" >BALB/c<tspan font-size="0.8em" dy="-2.5">nu/nu</tspan></text>
</svg>
</body></html>
